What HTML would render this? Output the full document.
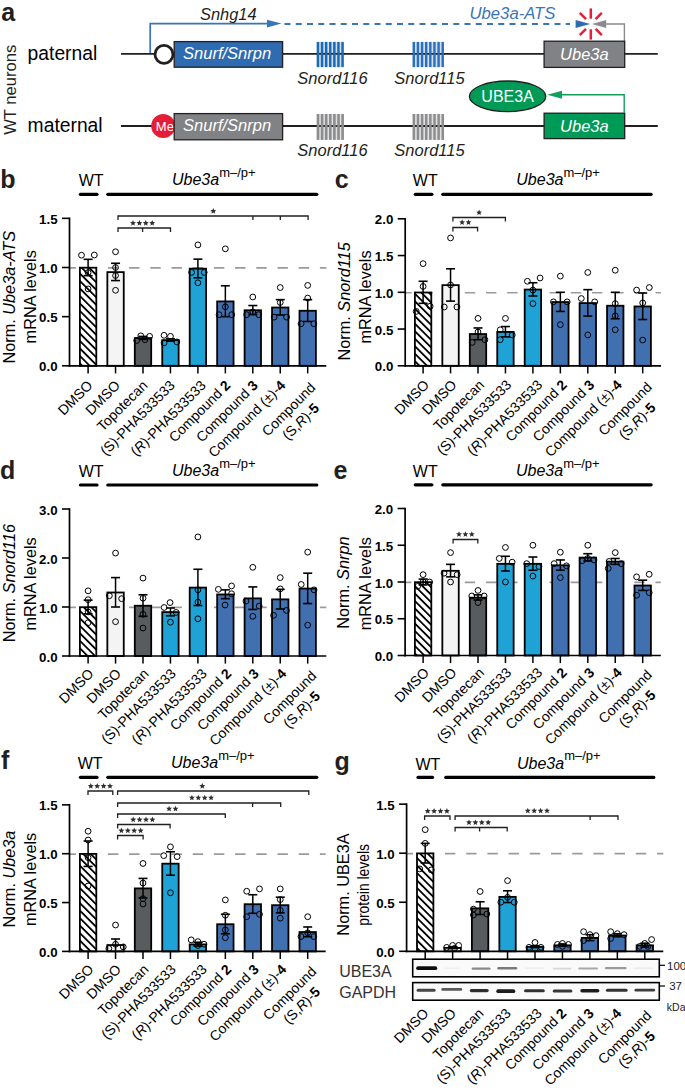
<!DOCTYPE html>
<html><head><meta charset="utf-8"><style>
html,body{margin:0;padding:0;background:#fff;}
svg{display:block;}
text{font-family:"Liberation Sans", sans-serif;}
</style></head><body>
<svg width="685" height="1092" viewBox="0 0 685 1092" font-family='"Liberation Sans", sans-serif'>
<defs><filter id="blur" x="-10%" y="-100%" width="120%" height="300%"><feGaussianBlur stdDeviation="0.7"/></filter><pattern id="hatch" patternUnits="userSpaceOnUse" width="5.3" height="5.3" patternTransform="rotate(-45)"><rect width="5.3" height="5.3" fill="#fff"/><rect x="0" y="0" width="1.8" height="5.3" fill="#000"/></pattern></defs>
<rect width="685" height="1092" fill="#fff"/>
<text x="1.30" y="21.20" font-size="25" font-weight="bold" font-style="normal" fill="#231f20" text-anchor="start" >a</text>
<text transform="translate(16.3,134.8) rotate(-90)" font-size="16.6" fill="#231f20">WT neurons</text>
<text x="27.60" y="60.20" font-size="19.3" font-weight="normal" font-style="normal" fill="#000" text-anchor="start" >paternal</text>
<text x="27.60" y="132.00" font-size="19.3" font-weight="normal" font-style="normal" fill="#000" text-anchor="start" >maternal</text>
<line x1="121.00" y1="53.80" x2="657.80" y2="53.80" stroke="#231f20" stroke-width="1.8" />
<line x1="121.00" y1="126.00" x2="657.80" y2="126.00" stroke="#231f20" stroke-width="1.8" />
<polyline points="150.2,53 150.2,23.6 270,23.6" fill="none" stroke="#3a74b9" stroke-width="1.7"/>
<polygon points="267,19.8 281.5,23.6 267,27.4" fill="#3a74b9"/>
<line x1="283.6" y1="24" x2="570" y2="24" stroke="#3a74b9" stroke-width="1.9" stroke-dasharray="6.0 5.25" stroke-dashoffset="-0.9"/>
<polygon points="575.6,20 590.2,24 575.6,28" fill="#2f6bb0"/>
<polyline points="624.4,41 624.4,24 605,24" fill="none" stroke="#8a8b8d" stroke-width="1.4"/>
<polygon points="606.2,20 592,24 606.2,28" fill="#8a8b8d"/>
<line x1="590.80" y1="18.70" x2="590.80" y2="8.40" stroke="#e3203a" stroke-width="2.5" />
<line x1="590.80" y1="29.30" x2="590.80" y2="39.60" stroke="#e3203a" stroke-width="2.5" />
<line x1="595.61" y1="19.19" x2="601.83" y2="12.97" stroke="#e3203a" stroke-width="2.5" />
<line x1="585.99" y1="19.19" x2="579.77" y2="12.97" stroke="#e3203a" stroke-width="2.5" />
<line x1="585.99" y1="28.81" x2="579.77" y2="35.03" stroke="#e3203a" stroke-width="2.5" />
<line x1="595.61" y1="28.81" x2="601.83" y2="35.03" stroke="#e3203a" stroke-width="2.5" />
<text x="200.00" y="19.90" font-size="16.4" font-weight="normal" font-style="italic" fill="#231f20" text-anchor="start" >Snhg14</text>
<text x="469.50" y="19.20" font-size="16.7" font-weight="normal" font-style="italic" fill="#3a74b9" text-anchor="start" >Ube3a-ATS</text>
<circle cx="164" cy="54.4" r="9.0" fill="#fff" stroke="#231f20" stroke-width="2.8"/>
<rect x="174.2" y="41.6" width="108.4" height="25.6" fill="#2f6bb0" stroke="#231f20" stroke-width="1.3"/>
<text x="183.10" y="59.40" font-size="16.5" font-weight="normal" font-style="italic" fill="#fff" text-anchor="start" >Snurf/Snrpn</text>
<rect x="316.7" y="41.9" width="27.0" height="25.2" fill="#c9d9ee" opacity="0.85"/>
<rect x="412.6" y="41.9" width="31.2" height="25.2" fill="#c9d9ee" opacity="0.85"/>
<line x1="316.00" y1="53.80" x2="345.00" y2="53.80" stroke="#231f20" stroke-width="1.8" />
<line x1="412.00" y1="53.80" x2="445.00" y2="53.80" stroke="#231f20" stroke-width="1.8" />
<rect x="316.70" y="41.9" width="2.5" height="25.2" fill="#1a6bb5"/>
<rect x="320.80" y="41.9" width="2.5" height="25.2" fill="#1a6bb5"/>
<rect x="324.90" y="41.9" width="2.5" height="25.2" fill="#1a6bb5"/>
<rect x="329.00" y="41.9" width="2.5" height="25.2" fill="#1a6bb5"/>
<rect x="333.10" y="41.9" width="2.5" height="25.2" fill="#1a6bb5"/>
<rect x="337.20" y="41.9" width="2.5" height="25.2" fill="#1a6bb5"/>
<rect x="341.30" y="41.9" width="2.5" height="25.2" fill="#1a6bb5"/>
<rect x="412.60" y="41.9" width="2.4" height="25.2" fill="#2a6fbc"/>
<rect x="416.73" y="41.9" width="2.4" height="25.2" fill="#2a6fbc"/>
<rect x="420.86" y="41.9" width="2.4" height="25.2" fill="#2a6fbc"/>
<rect x="424.99" y="41.9" width="2.4" height="25.2" fill="#2a6fbc"/>
<rect x="429.12" y="41.9" width="2.4" height="25.2" fill="#2a6fbc"/>
<rect x="433.25" y="41.9" width="2.4" height="25.2" fill="#2a6fbc"/>
<rect x="437.38" y="41.9" width="2.4" height="25.2" fill="#2a6fbc"/>
<rect x="441.51" y="41.9" width="2.4" height="25.2" fill="#2a6fbc"/>
<rect x="544.1" y="41.2" width="80.6" height="26.2" fill="#818285" stroke="#231f20" stroke-width="1.3"/>
<text x="584.40" y="60.30" font-size="16.5" font-weight="normal" font-style="italic" fill="#fff" text-anchor="middle" >Ube3a</text>
<text x="332.50" y="84.00" font-size="16.5" font-weight="normal" font-style="italic" fill="#231f20" text-anchor="middle" >Snord116</text>
<text x="429.50" y="84.00" font-size="16.5" font-weight="normal" font-style="italic" fill="#231f20" text-anchor="middle" >Snord115</text>
<circle cx="163.2" cy="126" r="12" fill="#e41e36"/>
<text x="164.90" y="130.90" font-size="13" font-weight="normal" font-style="normal" fill="#fff" text-anchor="middle" >Me</text>
<rect x="174.2" y="113.6" width="108.4" height="26.2" fill="#818285" stroke="#231f20" stroke-width="1.3"/>
<text x="183.10" y="131.40" font-size="16.5" font-weight="normal" font-style="italic" fill="#fff" text-anchor="start" >Snurf/Snrpn</text>
<rect x="316.7" y="114.0" width="27.0" height="25.9" fill="#dcdcdc" opacity="0.85"/>
<rect x="412.6" y="114.0" width="31.2" height="25.9" fill="#dcdcdc" opacity="0.85"/>
<line x1="316.00" y1="126.00" x2="345.00" y2="126.00" stroke="#231f20" stroke-width="1.8" />
<line x1="412.00" y1="126.00" x2="445.00" y2="126.00" stroke="#231f20" stroke-width="1.8" />
<rect x="316.70" y="114.0" width="2.6" height="25.9" fill="#8c8d8f"/>
<rect x="320.80" y="114.0" width="2.6" height="25.9" fill="#8c8d8f"/>
<rect x="324.90" y="114.0" width="2.6" height="25.9" fill="#8c8d8f"/>
<rect x="329.00" y="114.0" width="2.6" height="25.9" fill="#8c8d8f"/>
<rect x="333.10" y="114.0" width="2.6" height="25.9" fill="#8c8d8f"/>
<rect x="337.20" y="114.0" width="2.6" height="25.9" fill="#8c8d8f"/>
<rect x="341.30" y="114.0" width="2.6" height="25.9" fill="#8c8d8f"/>
<rect x="412.60" y="114.0" width="2.5" height="25.9" fill="#8c8d8f"/>
<rect x="416.73" y="114.0" width="2.5" height="25.9" fill="#8c8d8f"/>
<rect x="420.86" y="114.0" width="2.5" height="25.9" fill="#8c8d8f"/>
<rect x="424.99" y="114.0" width="2.5" height="25.9" fill="#8c8d8f"/>
<rect x="429.12" y="114.0" width="2.5" height="25.9" fill="#8c8d8f"/>
<rect x="433.25" y="114.0" width="2.5" height="25.9" fill="#8c8d8f"/>
<rect x="437.38" y="114.0" width="2.5" height="25.9" fill="#8c8d8f"/>
<rect x="441.51" y="114.0" width="2.5" height="25.9" fill="#8c8d8f"/>
<rect x="544.1" y="113.2" width="80.6" height="25.4" fill="#009a57" stroke="#231f20" stroke-width="1.3"/>
<text x="584.40" y="132.00" font-size="16.5" font-weight="normal" font-style="italic" fill="#fff" text-anchor="middle" >Ube3a</text>
<text x="332.50" y="156.00" font-size="16.5" font-weight="normal" font-style="italic" fill="#231f20" text-anchor="middle" >Snord116</text>
<text x="429.50" y="156.00" font-size="16.5" font-weight="normal" font-style="italic" fill="#231f20" text-anchor="middle" >Snord115</text>
<polyline points="624.2,113 624.2,94.8 560,94.8" fill="none" stroke="#12a05a" stroke-width="1.4"/>
<polygon points="562,90.8 547.2,94.8 562,98.8" fill="#12a05a"/>
<ellipse cx="507.6" cy="96.3" rx="38.2" ry="15.3" fill="#009a57" stroke="#231f20" stroke-width="1.3"/>
<text x="507.60" y="101.90" font-size="16" font-weight="normal" font-style="normal" fill="#fff" text-anchor="middle" >UBE3A</text>
<text x="0.20" y="187.50" font-size="25" font-weight="bold" font-style="normal" fill="#231f20" text-anchor="start" >b</text>
<text x="78.70" y="186.00" font-size="16" font-weight="normal" font-style="normal" fill="#000" text-anchor="start" >WT</text>
<line x1="80.40" y1="194.3" x2="97.00" y2="194.3" stroke="#000" stroke-width="3.2" stroke-linecap="round"/>
<line x1="107.80" y1="194.3" x2="316.80" y2="194.3" stroke="#000" stroke-width="3.2" stroke-linecap="round"/>
<text x="172.00" y="185.10" font-size="16" font-style="italic">Ube3a<tspan dy="-8.4" font-size="13" font-style="normal">m–/p+</tspan></text>
<line x1="69.50" y1="267.90" x2="326.30" y2="267.90" stroke="#9a9b9d" stroke-width="1.6" stroke-dasharray="10.4 10.8" stroke-dashoffset="4"/>
<rect x="79.90" y="267.70" width="16.40" height="98.10" fill="url(#hatch)" stroke="#000" stroke-width="1.8"/>
<line x1="88.10" y1="259.34" x2="88.10" y2="275.66" stroke="#000" stroke-width="1.5" />
<line x1="83.60" y1="259.34" x2="92.60" y2="259.34" stroke="#000" stroke-width="1.6" />
<line x1="83.60" y1="275.66" x2="92.60" y2="275.66" stroke="#000" stroke-width="1.6" />
<circle cx="81.50" cy="255.21" r="2.9" fill="none" stroke="#000" stroke-width="1"/>
<circle cx="94.30" cy="255.02" r="2.9" fill="none" stroke="#000" stroke-width="1"/>
<circle cx="88.10" cy="272.61" r="2.9" fill="none" stroke="#000" stroke-width="1"/>
<circle cx="88.10" cy="288.93" r="2.9" fill="none" stroke="#000" stroke-width="1"/>
<rect x="107.35" y="272.12" width="16.40" height="93.68" fill="#f4f4f4" stroke="#000" stroke-width="1.8"/>
<line x1="115.55" y1="263.27" x2="115.55" y2="280.57" stroke="#000" stroke-width="1.5" />
<line x1="111.05" y1="263.27" x2="120.05" y2="263.27" stroke="#000" stroke-width="1.6" />
<line x1="111.05" y1="280.57" x2="120.05" y2="280.57" stroke="#000" stroke-width="1.6" />
<circle cx="115.55" cy="251.77" r="2.9" fill="none" stroke="#000" stroke-width="1"/>
<circle cx="115.55" cy="267.50" r="2.9" fill="none" stroke="#000" stroke-width="1"/>
<circle cx="115.55" cy="275.56" r="2.9" fill="none" stroke="#000" stroke-width="1"/>
<circle cx="115.55" cy="290.31" r="2.9" fill="none" stroke="#000" stroke-width="1"/>
<rect x="134.80" y="338.08" width="16.40" height="27.72" fill="#585c5f" stroke="#000" stroke-width="1.8"/>
<line x1="143.00" y1="336.41" x2="143.00" y2="339.36" stroke="#000" stroke-width="1.5" />
<line x1="138.50" y1="336.41" x2="147.50" y2="336.41" stroke="#000" stroke-width="1.6" />
<line x1="138.50" y1="339.36" x2="147.50" y2="339.36" stroke="#000" stroke-width="1.6" />
<circle cx="140.80" cy="335.82" r="2.9" fill="none" stroke="#000" stroke-width="1"/>
<circle cx="149.60" cy="336.31" r="2.9" fill="none" stroke="#000" stroke-width="1"/>
<circle cx="136.70" cy="340.54" r="2.9" fill="none" stroke="#000" stroke-width="1"/>
<circle cx="144.90" cy="339.65" r="2.9" fill="none" stroke="#000" stroke-width="1"/>
<rect x="162.25" y="340.15" width="16.40" height="25.65" fill="#1fa2d6" stroke="#000" stroke-width="1.8"/>
<line x1="170.45" y1="338.77" x2="170.45" y2="341.13" stroke="#000" stroke-width="1.5" />
<line x1="165.95" y1="338.77" x2="174.95" y2="338.77" stroke="#000" stroke-width="1.6" />
<line x1="165.95" y1="341.13" x2="174.95" y2="341.13" stroke="#000" stroke-width="1.6" />
<circle cx="164.05" cy="335.33" r="2.9" fill="none" stroke="#000" stroke-width="1"/>
<circle cx="170.45" cy="336.31" r="2.9" fill="none" stroke="#000" stroke-width="1"/>
<circle cx="164.05" cy="342.90" r="2.9" fill="none" stroke="#000" stroke-width="1"/>
<circle cx="176.85" cy="341.91" r="2.9" fill="none" stroke="#000" stroke-width="1"/>
<rect x="189.70" y="268.68" width="16.40" height="97.12" fill="#1fa2d6" stroke="#000" stroke-width="1.8"/>
<line x1="197.90" y1="259.14" x2="197.90" y2="277.82" stroke="#000" stroke-width="1.5" />
<line x1="193.40" y1="259.14" x2="202.40" y2="259.14" stroke="#000" stroke-width="1.6" />
<line x1="193.40" y1="277.82" x2="202.40" y2="277.82" stroke="#000" stroke-width="1.6" />
<circle cx="197.90" cy="244.89" r="2.9" fill="none" stroke="#000" stroke-width="1"/>
<circle cx="191.60" cy="272.42" r="2.9" fill="none" stroke="#000" stroke-width="1"/>
<circle cx="204.20" cy="272.42" r="2.9" fill="none" stroke="#000" stroke-width="1"/>
<circle cx="197.90" cy="282.74" r="2.9" fill="none" stroke="#000" stroke-width="1"/>
<rect x="217.15" y="301.42" width="16.40" height="64.38" fill="#4070b0" stroke="#000" stroke-width="1.8"/>
<line x1="225.35" y1="285.78" x2="225.35" y2="316.65" stroke="#000" stroke-width="1.5" />
<line x1="220.85" y1="285.78" x2="229.85" y2="285.78" stroke="#000" stroke-width="1.6" />
<line x1="220.85" y1="316.65" x2="229.85" y2="316.65" stroke="#000" stroke-width="1.6" />
<circle cx="225.35" cy="248.82" r="2.9" fill="none" stroke="#000" stroke-width="1"/>
<circle cx="225.35" cy="306.82" r="2.9" fill="none" stroke="#000" stroke-width="1"/>
<circle cx="219.05" cy="314.68" r="2.9" fill="none" stroke="#000" stroke-width="1"/>
<circle cx="231.75" cy="314.68" r="2.9" fill="none" stroke="#000" stroke-width="1"/>
<rect x="244.60" y="310.26" width="16.40" height="55.54" fill="#4070b0" stroke="#000" stroke-width="1.8"/>
<line x1="252.80" y1="305.54" x2="252.80" y2="314.59" stroke="#000" stroke-width="1.5" />
<line x1="248.30" y1="305.54" x2="257.30" y2="305.54" stroke="#000" stroke-width="1.6" />
<line x1="248.30" y1="314.59" x2="257.30" y2="314.59" stroke="#000" stroke-width="1.6" />
<circle cx="252.80" cy="296.99" r="2.9" fill="none" stroke="#000" stroke-width="1"/>
<circle cx="246.70" cy="314.68" r="2.9" fill="none" stroke="#000" stroke-width="1"/>
<circle cx="252.80" cy="311.93" r="2.9" fill="none" stroke="#000" stroke-width="1"/>
<circle cx="258.70" cy="314.68" r="2.9" fill="none" stroke="#000" stroke-width="1"/>
<rect x="272.05" y="307.51" width="16.40" height="58.29" fill="#4070b0" stroke="#000" stroke-width="1.8"/>
<line x1="280.25" y1="299.64" x2="280.25" y2="314.98" stroke="#000" stroke-width="1.5" />
<line x1="275.75" y1="299.64" x2="284.75" y2="299.64" stroke="#000" stroke-width="1.6" />
<line x1="275.75" y1="314.98" x2="284.75" y2="314.98" stroke="#000" stroke-width="1.6" />
<circle cx="280.25" cy="287.55" r="2.9" fill="none" stroke="#000" stroke-width="1"/>
<circle cx="280.25" cy="302.49" r="2.9" fill="none" stroke="#000" stroke-width="1"/>
<circle cx="274.15" cy="317.14" r="2.9" fill="none" stroke="#000" stroke-width="1"/>
<circle cx="286.55" cy="317.14" r="2.9" fill="none" stroke="#000" stroke-width="1"/>
<rect x="299.50" y="310.76" width="16.40" height="55.04" fill="#4070b0" stroke="#000" stroke-width="1.8"/>
<line x1="307.70" y1="299.64" x2="307.70" y2="321.47" stroke="#000" stroke-width="1.5" />
<line x1="303.20" y1="299.64" x2="312.20" y2="299.64" stroke="#000" stroke-width="1.6" />
<line x1="303.20" y1="321.47" x2="312.20" y2="321.47" stroke="#000" stroke-width="1.6" />
<circle cx="307.70" cy="285.39" r="2.9" fill="none" stroke="#000" stroke-width="1"/>
<circle cx="307.70" cy="298.07" r="2.9" fill="none" stroke="#000" stroke-width="1"/>
<circle cx="301.10" cy="323.73" r="2.9" fill="none" stroke="#000" stroke-width="1"/>
<circle cx="313.80" cy="323.73" r="2.9" fill="none" stroke="#000" stroke-width="1"/>
<line x1="69.50" y1="217.55" x2="69.50" y2="366.70" stroke="#000" stroke-width="1.7"/>
<line x1="68.70" y1="365.80" x2="326.30" y2="365.80" stroke="#000" stroke-width="1.7"/>
<line x1="62.00" y1="365.80" x2="69.50" y2="365.80" stroke="#000" stroke-width="1.6" />
<text x="57.60" y="371.40" font-size="13.3" font-weight="bold" font-style="normal" fill="#000" text-anchor="end" >0.0</text>
<line x1="62.00" y1="316.65" x2="69.50" y2="316.65" stroke="#000" stroke-width="1.6" />
<text x="57.60" y="322.25" font-size="13.3" font-weight="bold" font-style="normal" fill="#000" text-anchor="end" >0.5</text>
<line x1="62.00" y1="267.50" x2="69.50" y2="267.50" stroke="#000" stroke-width="1.6" />
<text x="57.60" y="273.10" font-size="13.3" font-weight="bold" font-style="normal" fill="#000" text-anchor="end" >1.0</text>
<line x1="62.00" y1="218.35" x2="69.50" y2="218.35" stroke="#000" stroke-width="1.6" />
<text x="57.60" y="223.95" font-size="13.3" font-weight="bold" font-style="normal" fill="#000" text-anchor="end" >1.5</text>
<line x1="88.10" y1="365.80" x2="88.10" y2="373.40" stroke="#000" stroke-width="1.5" />
<line x1="115.55" y1="365.80" x2="115.55" y2="373.40" stroke="#000" stroke-width="1.5" />
<line x1="143.00" y1="365.80" x2="143.00" y2="373.40" stroke="#000" stroke-width="1.5" />
<line x1="170.45" y1="365.80" x2="170.45" y2="373.40" stroke="#000" stroke-width="1.5" />
<line x1="197.90" y1="365.80" x2="197.90" y2="373.40" stroke="#000" stroke-width="1.5" />
<line x1="225.35" y1="365.80" x2="225.35" y2="373.40" stroke="#000" stroke-width="1.5" />
<line x1="252.80" y1="365.80" x2="252.80" y2="373.40" stroke="#000" stroke-width="1.5" />
<line x1="280.25" y1="365.80" x2="280.25" y2="373.40" stroke="#000" stroke-width="1.5" />
<line x1="307.70" y1="365.80" x2="307.70" y2="373.40" stroke="#000" stroke-width="1.5" />
<polyline points="118.00,232.00 118.00,228.00 170.50,228.00 170.50,232.00" fill="none" stroke="#231f20" stroke-width="1.3"/>
<line x1="142.60" y1="228.00" x2="142.60" y2="232.00" stroke="#231f20" stroke-width="1.3" />
<polygon points="133.00,220.10 133.82,222.07 135.95,222.24 134.33,223.63 134.82,225.71 133.00,224.60 131.18,225.71 131.67,223.63 130.05,222.24 132.18,222.07" fill="#2e2e2e"/>
<polygon points="139.40,220.10 140.22,222.07 142.35,222.24 140.73,223.63 141.22,225.71 139.40,224.60 137.58,225.71 138.07,223.63 136.45,222.24 138.58,222.07" fill="#2e2e2e"/>
<polygon points="145.80,220.10 146.62,222.07 148.75,222.24 147.13,223.63 147.62,225.71 145.80,224.60 143.98,225.71 144.47,223.63 142.85,222.24 144.98,222.07" fill="#2e2e2e"/>
<polygon points="152.20,220.10 153.02,222.07 155.15,222.24 153.53,223.63 154.02,225.71 152.20,224.60 150.38,225.71 150.87,223.63 149.25,222.24 151.38,222.07" fill="#2e2e2e"/>
<polyline points="118.00,220.00 118.00,216.00 308.10,216.00 308.10,220.00" fill="none" stroke="#231f20" stroke-width="1.3"/>
<line x1="252.90" y1="216.00" x2="252.90" y2="220.00" stroke="#231f20" stroke-width="1.3" />
<line x1="280.30" y1="216.00" x2="280.30" y2="220.00" stroke="#231f20" stroke-width="1.3" />
<polygon points="213.30,208.10 214.12,210.07 216.25,210.24 214.63,211.63 215.12,213.71 213.30,212.60 211.48,213.71 211.97,211.63 210.35,210.24 212.48,210.07" fill="#2e2e2e"/>
<text transform="translate(15.10,297.20) rotate(-90)" font-size="16.3" text-anchor="middle">Norm. <tspan font-style="italic">Ube3a-ATS</tspan></text>
<text transform="translate(35.50,296.80) rotate(-90)" font-size="16.3" text-anchor="middle">mRNA levels</text>
<text transform="translate(93.50,386.30) rotate(-45)" font-size="14.0" text-anchor="end">DMSO</text>
<text transform="translate(120.95,386.30) rotate(-45)" font-size="14.0" text-anchor="end">DMSO</text>
<text transform="translate(148.40,386.30) rotate(-45)" font-size="14.0" text-anchor="end">Topotecan</text>
<text transform="translate(175.85,386.30) rotate(-45)" font-size="14.0" text-anchor="end">(S)-PHA533533</text>
<text transform="translate(206.80,386.30) rotate(-45)" font-size="14.0" text-anchor="end">(<tspan font-style="italic">R</tspan>)-PHA533533</text>
<text transform="translate(231.35,386.30) rotate(-45)" font-size="14.0" text-anchor="end">Compound <tspan font-weight="bold">2</tspan></text>
<text transform="translate(258.80,386.30) rotate(-45)" font-size="14.0" text-anchor="end">Compound <tspan font-weight="bold">3</tspan></text>
<text transform="translate(286.25,386.30) rotate(-45)" font-size="14.0" text-anchor="end">Compound (±)-<tspan font-weight="bold">4</tspan></text>
<text transform="translate(316.20,388.60) rotate(-45)" font-size="14.0" text-anchor="end">Compound</text>
<text transform="translate(319.96,408.88) rotate(-45)" font-size="14.0" text-anchor="end">(S,<tspan font-style="italic">R</tspan>)-<tspan font-weight="bold">5</tspan></text>
<text x="334.80" y="187.60" font-size="25" font-weight="bold" font-style="normal" fill="#231f20" text-anchor="start" >c</text>
<text x="412.80" y="186.00" font-size="16" font-weight="normal" font-style="normal" fill="#000" text-anchor="start" >WT</text>
<line x1="415.30" y1="194.3" x2="431.90" y2="194.3" stroke="#000" stroke-width="3.2" stroke-linecap="round"/>
<line x1="442.80" y1="194.3" x2="651.10" y2="194.3" stroke="#000" stroke-width="3.2" stroke-linecap="round"/>
<text x="516.30" y="185.10" font-size="16" font-style="italic">Ube3a<tspan dy="-8.4" font-size="13" font-style="normal">m–/p+</tspan></text>
<line x1="405.20" y1="292.70" x2="661.00" y2="292.70" stroke="#9a9b9d" stroke-width="1.6" stroke-dasharray="10.4 10.8" stroke-dashoffset="4"/>
<rect x="414.90" y="292.50" width="16.40" height="73.30" fill="url(#hatch)" stroke="#000" stroke-width="1.8"/>
<line x1="423.10" y1="281.28" x2="423.10" y2="303.32" stroke="#000" stroke-width="1.5" />
<line x1="418.60" y1="281.28" x2="427.60" y2="281.28" stroke="#000" stroke-width="1.6" />
<line x1="418.60" y1="303.32" x2="427.60" y2="303.32" stroke="#000" stroke-width="1.6" />
<circle cx="423.10" cy="263.63" r="2.9" fill="none" stroke="#000" stroke-width="1"/>
<circle cx="423.10" cy="286.42" r="2.9" fill="none" stroke="#000" stroke-width="1"/>
<circle cx="416.20" cy="311.41" r="2.9" fill="none" stroke="#000" stroke-width="1"/>
<circle cx="430.10" cy="306.26" r="2.9" fill="none" stroke="#000" stroke-width="1"/>
<rect x="442.35" y="285.15" width="16.40" height="80.65" fill="#f4f4f4" stroke="#000" stroke-width="1.8"/>
<line x1="450.55" y1="268.78" x2="450.55" y2="301.12" stroke="#000" stroke-width="1.5" />
<line x1="446.05" y1="268.78" x2="455.05" y2="268.78" stroke="#000" stroke-width="1.6" />
<line x1="446.05" y1="301.12" x2="455.05" y2="301.12" stroke="#000" stroke-width="1.6" />
<circle cx="450.55" cy="237.91" r="2.9" fill="none" stroke="#000" stroke-width="1"/>
<circle cx="450.55" cy="284.95" r="2.9" fill="none" stroke="#000" stroke-width="1"/>
<circle cx="444.25" cy="307.00" r="2.9" fill="none" stroke="#000" stroke-width="1"/>
<circle cx="456.95" cy="307.00" r="2.9" fill="none" stroke="#000" stroke-width="1"/>
<rect x="469.80" y="334.03" width="16.40" height="31.77" fill="#585c5f" stroke="#000" stroke-width="1.8"/>
<line x1="478.00" y1="327.95" x2="478.00" y2="339.71" stroke="#000" stroke-width="1.5" />
<line x1="473.50" y1="327.95" x2="482.50" y2="327.95" stroke="#000" stroke-width="1.6" />
<line x1="473.50" y1="339.71" x2="482.50" y2="339.71" stroke="#000" stroke-width="1.6" />
<circle cx="478.00" cy="318.39" r="2.9" fill="none" stroke="#000" stroke-width="1"/>
<circle cx="478.00" cy="331.99" r="2.9" fill="none" stroke="#000" stroke-width="1"/>
<circle cx="472.20" cy="342.43" r="2.9" fill="none" stroke="#000" stroke-width="1"/>
<circle cx="484.90" cy="339.71" r="2.9" fill="none" stroke="#000" stroke-width="1"/>
<rect x="497.25" y="331.90" width="16.40" height="33.90" fill="#1fa2d6" stroke="#000" stroke-width="1.8"/>
<line x1="505.45" y1="326.55" x2="505.45" y2="336.84" stroke="#000" stroke-width="1.5" />
<line x1="500.95" y1="326.55" x2="509.95" y2="326.55" stroke="#000" stroke-width="1.6" />
<line x1="500.95" y1="336.84" x2="509.95" y2="336.84" stroke="#000" stroke-width="1.6" />
<circle cx="505.45" cy="318.39" r="2.9" fill="none" stroke="#000" stroke-width="1"/>
<circle cx="500.25" cy="329.79" r="2.9" fill="none" stroke="#000" stroke-width="1"/>
<circle cx="512.25" cy="334.93" r="2.9" fill="none" stroke="#000" stroke-width="1"/>
<circle cx="500.25" cy="339.71" r="2.9" fill="none" stroke="#000" stroke-width="1"/>
<rect x="524.70" y="289.56" width="16.40" height="76.24" fill="#1fa2d6" stroke="#000" stroke-width="1.8"/>
<line x1="532.90" y1="282.75" x2="532.90" y2="295.98" stroke="#000" stroke-width="1.5" />
<line x1="528.40" y1="282.75" x2="537.40" y2="282.75" stroke="#000" stroke-width="1.6" />
<line x1="528.40" y1="295.98" x2="537.40" y2="295.98" stroke="#000" stroke-width="1.6" />
<circle cx="527.40" cy="281.28" r="2.9" fill="none" stroke="#000" stroke-width="1"/>
<circle cx="540.10" cy="277.97" r="2.9" fill="none" stroke="#000" stroke-width="1"/>
<circle cx="532.90" cy="290.10" r="2.9" fill="none" stroke="#000" stroke-width="1"/>
<circle cx="532.90" cy="303.62" r="2.9" fill="none" stroke="#000" stroke-width="1"/>
<rect x="552.15" y="302.06" width="16.40" height="63.74" fill="#4070b0" stroke="#000" stroke-width="1.8"/>
<line x1="560.35" y1="292.30" x2="560.35" y2="311.41" stroke="#000" stroke-width="1.5" />
<line x1="555.85" y1="292.30" x2="564.85" y2="292.30" stroke="#000" stroke-width="1.6" />
<line x1="555.85" y1="311.41" x2="564.85" y2="311.41" stroke="#000" stroke-width="1.6" />
<circle cx="560.35" cy="276.13" r="2.9" fill="none" stroke="#000" stroke-width="1"/>
<circle cx="553.45" cy="301.86" r="2.9" fill="none" stroke="#000" stroke-width="1"/>
<circle cx="567.15" cy="301.86" r="2.9" fill="none" stroke="#000" stroke-width="1"/>
<circle cx="560.35" cy="324.64" r="2.9" fill="none" stroke="#000" stroke-width="1"/>
<rect x="579.60" y="303.08" width="16.40" height="62.72" fill="#4070b0" stroke="#000" stroke-width="1.8"/>
<line x1="587.80" y1="289.65" x2="587.80" y2="316.11" stroke="#000" stroke-width="1.5" />
<line x1="583.30" y1="289.65" x2="592.30" y2="289.65" stroke="#000" stroke-width="1.6" />
<line x1="583.30" y1="316.11" x2="592.30" y2="316.11" stroke="#000" stroke-width="1.6" />
<circle cx="587.80" cy="272.46" r="2.9" fill="none" stroke="#000" stroke-width="1"/>
<circle cx="581.30" cy="298.55" r="2.9" fill="none" stroke="#000" stroke-width="1"/>
<circle cx="594.70" cy="301.86" r="2.9" fill="none" stroke="#000" stroke-width="1"/>
<circle cx="587.80" cy="334.93" r="2.9" fill="none" stroke="#000" stroke-width="1"/>
<rect x="607.05" y="305.73" width="16.40" height="60.07" fill="#4070b0" stroke="#000" stroke-width="1.8"/>
<line x1="615.25" y1="292.30" x2="615.25" y2="318.76" stroke="#000" stroke-width="1.5" />
<line x1="610.75" y1="292.30" x2="619.75" y2="292.30" stroke="#000" stroke-width="1.6" />
<line x1="610.75" y1="318.76" x2="619.75" y2="318.76" stroke="#000" stroke-width="1.6" />
<circle cx="615.25" cy="270.25" r="2.9" fill="none" stroke="#000" stroke-width="1"/>
<circle cx="615.25" cy="303.62" r="2.9" fill="none" stroke="#000" stroke-width="1"/>
<circle cx="615.25" cy="315.82" r="2.9" fill="none" stroke="#000" stroke-width="1"/>
<circle cx="615.25" cy="329.79" r="2.9" fill="none" stroke="#000" stroke-width="1"/>
<rect x="634.50" y="306.46" width="16.40" height="59.34" fill="#4070b0" stroke="#000" stroke-width="1.8"/>
<line x1="642.70" y1="293.04" x2="642.70" y2="319.50" stroke="#000" stroke-width="1.5" />
<line x1="638.20" y1="293.04" x2="647.20" y2="293.04" stroke="#000" stroke-width="1.6" />
<line x1="638.20" y1="319.50" x2="647.20" y2="319.50" stroke="#000" stroke-width="1.6" />
<circle cx="636.60" cy="290.10" r="2.9" fill="none" stroke="#000" stroke-width="1"/>
<circle cx="649.30" cy="287.52" r="2.9" fill="none" stroke="#000" stroke-width="1"/>
<circle cx="642.70" cy="302.88" r="2.9" fill="none" stroke="#000" stroke-width="1"/>
<circle cx="642.70" cy="340.07" r="2.9" fill="none" stroke="#000" stroke-width="1"/>
<line x1="405.20" y1="218.00" x2="405.20" y2="366.70" stroke="#000" stroke-width="1.7"/>
<line x1="404.40" y1="365.80" x2="661.00" y2="365.80" stroke="#000" stroke-width="1.7"/>
<line x1="397.70" y1="365.80" x2="405.20" y2="365.80" stroke="#000" stroke-width="1.6" />
<text x="393.30" y="371.40" font-size="13.3" font-weight="bold" font-style="normal" fill="#000" text-anchor="end" >0.0</text>
<line x1="397.70" y1="329.05" x2="405.20" y2="329.05" stroke="#000" stroke-width="1.6" />
<text x="393.30" y="334.65" font-size="13.3" font-weight="bold" font-style="normal" fill="#000" text-anchor="end" >0.5</text>
<line x1="397.70" y1="292.30" x2="405.20" y2="292.30" stroke="#000" stroke-width="1.6" />
<text x="393.30" y="297.90" font-size="13.3" font-weight="bold" font-style="normal" fill="#000" text-anchor="end" >1.0</text>
<line x1="397.70" y1="255.55" x2="405.20" y2="255.55" stroke="#000" stroke-width="1.6" />
<text x="393.30" y="261.15" font-size="13.3" font-weight="bold" font-style="normal" fill="#000" text-anchor="end" >1.5</text>
<line x1="397.70" y1="218.80" x2="405.20" y2="218.80" stroke="#000" stroke-width="1.6" />
<text x="393.30" y="224.40" font-size="13.3" font-weight="bold" font-style="normal" fill="#000" text-anchor="end" >2.0</text>
<line x1="423.10" y1="365.80" x2="423.10" y2="373.40" stroke="#000" stroke-width="1.5" />
<line x1="450.55" y1="365.80" x2="450.55" y2="373.40" stroke="#000" stroke-width="1.5" />
<line x1="478.00" y1="365.80" x2="478.00" y2="373.40" stroke="#000" stroke-width="1.5" />
<line x1="505.45" y1="365.80" x2="505.45" y2="373.40" stroke="#000" stroke-width="1.5" />
<line x1="532.90" y1="365.80" x2="532.90" y2="373.40" stroke="#000" stroke-width="1.5" />
<line x1="560.35" y1="365.80" x2="560.35" y2="373.40" stroke="#000" stroke-width="1.5" />
<line x1="587.80" y1="365.80" x2="587.80" y2="373.40" stroke="#000" stroke-width="1.5" />
<line x1="615.25" y1="365.80" x2="615.25" y2="373.40" stroke="#000" stroke-width="1.5" />
<line x1="642.70" y1="365.80" x2="642.70" y2="373.40" stroke="#000" stroke-width="1.5" />
<polyline points="452.90,231.50 452.90,227.50 477.60,227.50 477.60,231.50" fill="none" stroke="#231f20" stroke-width="1.3"/>
<polygon points="462.10,219.30 462.92,221.27 465.05,221.44 463.43,222.83 463.92,224.91 462.10,223.80 460.28,224.91 460.77,222.83 459.15,221.44 461.28,221.27" fill="#2e2e2e"/>
<polygon points="468.50,219.30 469.32,221.27 471.45,221.44 469.83,222.83 470.32,224.91 468.50,223.80 466.68,224.91 467.17,222.83 465.55,221.44 467.68,221.27" fill="#2e2e2e"/>
<polyline points="452.90,221.50 452.90,217.50 505.40,217.50 505.40,221.50" fill="none" stroke="#231f20" stroke-width="1.3"/>
<polygon points="479.10,209.50 479.92,211.47 482.05,211.64 480.43,213.03 480.92,215.11 479.10,214.00 477.28,215.11 477.77,213.03 476.15,211.64 478.28,211.47" fill="#2e2e2e"/>
<text transform="translate(349.90,301.40) rotate(-90)" font-size="16.3" text-anchor="middle">Norm. <tspan font-style="italic">Snord115</tspan></text>
<text transform="translate(370.60,297.00) rotate(-90)" font-size="16.3" text-anchor="middle">mRNA levels</text>
<text transform="translate(430.00,385.80) rotate(-45)" font-size="14.0" text-anchor="end">DMSO</text>
<text transform="translate(457.45,385.80) rotate(-45)" font-size="14.0" text-anchor="end">DMSO</text>
<text transform="translate(484.90,385.80) rotate(-45)" font-size="14.0" text-anchor="end">Topotecan</text>
<text transform="translate(512.35,385.80) rotate(-45)" font-size="14.0" text-anchor="end">(S)-PHA533533</text>
<text transform="translate(543.30,385.80) rotate(-45)" font-size="14.0" text-anchor="end">(<tspan font-style="italic">R</tspan>)-PHA533533</text>
<text transform="translate(567.85,385.80) rotate(-45)" font-size="14.0" text-anchor="end">Compound <tspan font-weight="bold">2</tspan></text>
<text transform="translate(595.30,385.80) rotate(-45)" font-size="14.0" text-anchor="end">Compound <tspan font-weight="bold">3</tspan></text>
<text transform="translate(622.75,385.80) rotate(-45)" font-size="14.0" text-anchor="end">Compound (±)-<tspan font-weight="bold">4</tspan></text>
<text transform="translate(652.70,388.10) rotate(-45)" font-size="14.0" text-anchor="end">Compound</text>
<text transform="translate(656.46,408.38) rotate(-45)" font-size="14.0" text-anchor="end">(S,<tspan font-style="italic">R</tspan>)-<tspan font-weight="bold">5</tspan></text>
<text x="0.00" y="479.10" font-size="25" font-weight="bold" font-style="normal" fill="#231f20" text-anchor="start" >d</text>
<text x="78.70" y="476.90" font-size="16" font-weight="normal" font-style="normal" fill="#000" text-anchor="start" >WT</text>
<line x1="80.40" y1="485" x2="97.00" y2="485" stroke="#000" stroke-width="3.2" stroke-linecap="round"/>
<line x1="107.80" y1="485" x2="316.80" y2="485" stroke="#000" stroke-width="3.2" stroke-linecap="round"/>
<text x="172.00" y="476.00" font-size="16" font-style="italic">Ube3a<tspan dy="-8.4" font-size="13" font-style="normal">m–/p+</tspan></text>
<line x1="69.50" y1="607.40" x2="326.30" y2="607.40" stroke="#9a9b9d" stroke-width="1.6" stroke-dasharray="10.4 10.8" stroke-dashoffset="4"/>
<rect x="79.90" y="607.20" width="16.40" height="48.80" fill="url(#hatch)" stroke="#000" stroke-width="1.8"/>
<line x1="88.10" y1="600.14" x2="88.10" y2="613.86" stroke="#000" stroke-width="1.5" />
<line x1="83.60" y1="600.14" x2="92.60" y2="600.14" stroke="#000" stroke-width="1.6" />
<line x1="83.60" y1="613.86" x2="92.60" y2="613.86" stroke="#000" stroke-width="1.6" />
<circle cx="88.10" cy="590.83" r="2.9" fill="none" stroke="#000" stroke-width="1"/>
<circle cx="88.10" cy="599.65" r="2.9" fill="none" stroke="#000" stroke-width="1"/>
<circle cx="88.10" cy="611.90" r="2.9" fill="none" stroke="#000" stroke-width="1"/>
<circle cx="88.10" cy="622.68" r="2.9" fill="none" stroke="#000" stroke-width="1"/>
<rect x="107.35" y="592.50" width="16.40" height="63.50" fill="#f4f4f4" stroke="#000" stroke-width="1.8"/>
<line x1="115.55" y1="577.60" x2="115.55" y2="607.00" stroke="#000" stroke-width="1.5" />
<line x1="111.05" y1="577.60" x2="120.05" y2="577.60" stroke="#000" stroke-width="1.6" />
<line x1="111.05" y1="607.00" x2="120.05" y2="607.00" stroke="#000" stroke-width="1.6" />
<circle cx="115.55" cy="553.10" r="2.9" fill="none" stroke="#000" stroke-width="1"/>
<circle cx="109.35" cy="595.73" r="2.9" fill="none" stroke="#000" stroke-width="1"/>
<circle cx="121.65" cy="598.67" r="2.9" fill="none" stroke="#000" stroke-width="1"/>
<circle cx="115.55" cy="621.70" r="2.9" fill="none" stroke="#000" stroke-width="1"/>
<rect x="134.80" y="605.73" width="16.40" height="50.27" fill="#585c5f" stroke="#000" stroke-width="1.8"/>
<line x1="143.00" y1="594.75" x2="143.00" y2="616.31" stroke="#000" stroke-width="1.5" />
<line x1="138.50" y1="594.75" x2="147.50" y2="594.75" stroke="#000" stroke-width="1.6" />
<line x1="138.50" y1="616.31" x2="147.50" y2="616.31" stroke="#000" stroke-width="1.6" />
<circle cx="143.00" cy="578.09" r="2.9" fill="none" stroke="#000" stroke-width="1"/>
<circle cx="143.00" cy="598.18" r="2.9" fill="none" stroke="#000" stroke-width="1"/>
<circle cx="143.00" cy="614.35" r="2.9" fill="none" stroke="#000" stroke-width="1"/>
<circle cx="143.00" cy="628.07" r="2.9" fill="none" stroke="#000" stroke-width="1"/>
<rect x="162.25" y="612.10" width="16.40" height="43.90" fill="#1fa2d6" stroke="#000" stroke-width="1.8"/>
<line x1="170.45" y1="607.98" x2="170.45" y2="615.82" stroke="#000" stroke-width="1.5" />
<line x1="165.95" y1="607.98" x2="174.95" y2="607.98" stroke="#000" stroke-width="1.6" />
<line x1="165.95" y1="615.82" x2="174.95" y2="615.82" stroke="#000" stroke-width="1.6" />
<circle cx="164.15" cy="607.49" r="2.9" fill="none" stroke="#000" stroke-width="1"/>
<circle cx="170.05" cy="602.59" r="2.9" fill="none" stroke="#000" stroke-width="1"/>
<circle cx="176.15" cy="612.39" r="2.9" fill="none" stroke="#000" stroke-width="1"/>
<circle cx="170.45" cy="622.19" r="2.9" fill="none" stroke="#000" stroke-width="1"/>
<rect x="189.70" y="587.60" width="16.40" height="68.40" fill="#1fa2d6" stroke="#000" stroke-width="1.8"/>
<line x1="197.90" y1="569.27" x2="197.90" y2="605.53" stroke="#000" stroke-width="1.5" />
<line x1="193.40" y1="569.27" x2="202.40" y2="569.27" stroke="#000" stroke-width="1.6" />
<line x1="193.40" y1="605.53" x2="202.40" y2="605.53" stroke="#000" stroke-width="1.6" />
<circle cx="197.90" cy="536.93" r="2.9" fill="none" stroke="#000" stroke-width="1"/>
<circle cx="197.90" cy="589.85" r="2.9" fill="none" stroke="#000" stroke-width="1"/>
<circle cx="197.90" cy="602.10" r="2.9" fill="none" stroke="#000" stroke-width="1"/>
<circle cx="197.90" cy="618.76" r="2.9" fill="none" stroke="#000" stroke-width="1"/>
<rect x="217.15" y="594.46" width="16.40" height="61.54" fill="#4070b0" stroke="#000" stroke-width="1.8"/>
<line x1="225.35" y1="589.85" x2="225.35" y2="598.67" stroke="#000" stroke-width="1.5" />
<line x1="220.85" y1="589.85" x2="229.85" y2="589.85" stroke="#000" stroke-width="1.6" />
<line x1="220.85" y1="598.67" x2="229.85" y2="598.67" stroke="#000" stroke-width="1.6" />
<circle cx="218.35" cy="589.36" r="2.9" fill="none" stroke="#000" stroke-width="1"/>
<circle cx="231.55" cy="585.93" r="2.9" fill="none" stroke="#000" stroke-width="1"/>
<circle cx="231.55" cy="593.77" r="2.9" fill="none" stroke="#000" stroke-width="1"/>
<circle cx="225.05" cy="605.04" r="2.9" fill="none" stroke="#000" stroke-width="1"/>
<rect x="244.60" y="598.38" width="16.40" height="57.62" fill="#4070b0" stroke="#000" stroke-width="1.8"/>
<line x1="252.80" y1="586.91" x2="252.80" y2="609.45" stroke="#000" stroke-width="1.5" />
<line x1="248.30" y1="586.91" x2="257.30" y2="586.91" stroke="#000" stroke-width="1.6" />
<line x1="248.30" y1="609.45" x2="257.30" y2="609.45" stroke="#000" stroke-width="1.6" />
<circle cx="252.80" cy="567.31" r="2.9" fill="none" stroke="#000" stroke-width="1"/>
<circle cx="246.00" cy="601.12" r="2.9" fill="none" stroke="#000" stroke-width="1"/>
<circle cx="259.20" cy="606.02" r="2.9" fill="none" stroke="#000" stroke-width="1"/>
<circle cx="252.80" cy="616.31" r="2.9" fill="none" stroke="#000" stroke-width="1"/>
<rect x="272.05" y="599.36" width="16.40" height="56.64" fill="#4070b0" stroke="#000" stroke-width="1.8"/>
<line x1="280.25" y1="589.36" x2="280.25" y2="608.96" stroke="#000" stroke-width="1.5" />
<line x1="275.75" y1="589.36" x2="284.75" y2="589.36" stroke="#000" stroke-width="1.6" />
<line x1="275.75" y1="608.96" x2="284.75" y2="608.96" stroke="#000" stroke-width="1.6" />
<circle cx="280.25" cy="577.60" r="2.9" fill="none" stroke="#000" stroke-width="1"/>
<circle cx="280.25" cy="588.87" r="2.9" fill="none" stroke="#000" stroke-width="1"/>
<circle cx="273.55" cy="615.33" r="2.9" fill="none" stroke="#000" stroke-width="1"/>
<circle cx="286.45" cy="610.43" r="2.9" fill="none" stroke="#000" stroke-width="1"/>
<rect x="299.50" y="588.58" width="16.40" height="67.42" fill="#4070b0" stroke="#000" stroke-width="1.8"/>
<line x1="307.70" y1="573.19" x2="307.70" y2="603.57" stroke="#000" stroke-width="1.5" />
<line x1="303.20" y1="573.19" x2="312.20" y2="573.19" stroke="#000" stroke-width="1.6" />
<line x1="303.20" y1="603.57" x2="312.20" y2="603.57" stroke="#000" stroke-width="1.6" />
<circle cx="307.70" cy="552.12" r="2.9" fill="none" stroke="#000" stroke-width="1"/>
<circle cx="301.20" cy="584.46" r="2.9" fill="none" stroke="#000" stroke-width="1"/>
<circle cx="314.00" cy="589.85" r="2.9" fill="none" stroke="#000" stroke-width="1"/>
<circle cx="307.70" cy="625.13" r="2.9" fill="none" stroke="#000" stroke-width="1"/>
<line x1="69.50" y1="508.20" x2="69.50" y2="656.90" stroke="#000" stroke-width="1.7"/>
<line x1="68.70" y1="656.00" x2="326.30" y2="656.00" stroke="#000" stroke-width="1.7"/>
<line x1="62.00" y1="656.00" x2="69.50" y2="656.00" stroke="#000" stroke-width="1.6" />
<text x="57.60" y="661.60" font-size="13.3" font-weight="bold" font-style="normal" fill="#000" text-anchor="end" >0.0</text>
<line x1="62.00" y1="607.00" x2="69.50" y2="607.00" stroke="#000" stroke-width="1.6" />
<text x="57.60" y="612.60" font-size="13.3" font-weight="bold" font-style="normal" fill="#000" text-anchor="end" >1.0</text>
<line x1="62.00" y1="558.00" x2="69.50" y2="558.00" stroke="#000" stroke-width="1.6" />
<text x="57.60" y="563.60" font-size="13.3" font-weight="bold" font-style="normal" fill="#000" text-anchor="end" >2.0</text>
<line x1="62.00" y1="509.00" x2="69.50" y2="509.00" stroke="#000" stroke-width="1.6" />
<text x="57.60" y="514.60" font-size="13.3" font-weight="bold" font-style="normal" fill="#000" text-anchor="end" >3.0</text>
<line x1="88.10" y1="656.00" x2="88.10" y2="663.60" stroke="#000" stroke-width="1.5" />
<line x1="115.55" y1="656.00" x2="115.55" y2="663.60" stroke="#000" stroke-width="1.5" />
<line x1="143.00" y1="656.00" x2="143.00" y2="663.60" stroke="#000" stroke-width="1.5" />
<line x1="170.45" y1="656.00" x2="170.45" y2="663.60" stroke="#000" stroke-width="1.5" />
<line x1="197.90" y1="656.00" x2="197.90" y2="663.60" stroke="#000" stroke-width="1.5" />
<line x1="225.35" y1="656.00" x2="225.35" y2="663.60" stroke="#000" stroke-width="1.5" />
<line x1="252.80" y1="656.00" x2="252.80" y2="663.60" stroke="#000" stroke-width="1.5" />
<line x1="280.25" y1="656.00" x2="280.25" y2="663.60" stroke="#000" stroke-width="1.5" />
<line x1="307.70" y1="656.00" x2="307.70" y2="663.60" stroke="#000" stroke-width="1.5" />
<text transform="translate(15.10,583.10) rotate(-90)" font-size="16.3" text-anchor="middle">Norm. <tspan font-style="italic">Snord116</tspan></text>
<text transform="translate(35.50,583.90) rotate(-90)" font-size="16.3" text-anchor="middle">mRNA levels</text>
<text transform="translate(94.50,674.50) rotate(-45)" font-size="14.0" text-anchor="end">DMSO</text>
<text transform="translate(121.95,674.50) rotate(-45)" font-size="14.0" text-anchor="end">DMSO</text>
<text transform="translate(149.40,674.50) rotate(-45)" font-size="14.0" text-anchor="end">Topotecan</text>
<text transform="translate(176.85,674.50) rotate(-45)" font-size="14.0" text-anchor="end">(S)-PHA533533</text>
<text transform="translate(207.80,674.50) rotate(-45)" font-size="14.0" text-anchor="end">(<tspan font-style="italic">R</tspan>)-PHA533533</text>
<text transform="translate(232.35,674.50) rotate(-45)" font-size="14.0" text-anchor="end">Compound <tspan font-weight="bold">2</tspan></text>
<text transform="translate(259.80,674.50) rotate(-45)" font-size="14.0" text-anchor="end">Compound <tspan font-weight="bold">3</tspan></text>
<text transform="translate(287.25,674.50) rotate(-45)" font-size="14.0" text-anchor="end">Compound (±)-<tspan font-weight="bold">4</tspan></text>
<text transform="translate(317.20,676.80) rotate(-45)" font-size="14.0" text-anchor="end">Compound</text>
<text transform="translate(320.96,697.08) rotate(-45)" font-size="14.0" text-anchor="end">(S,<tspan font-style="italic">R</tspan>)-<tspan font-weight="bold">5</tspan></text>
<text x="333.60" y="478.60" font-size="25" font-weight="bold" font-style="normal" fill="#231f20" text-anchor="start" >e</text>
<text x="412.80" y="476.90" font-size="16" font-weight="normal" font-style="normal" fill="#000" text-anchor="start" >WT</text>
<line x1="415.30" y1="484.8" x2="431.90" y2="484.8" stroke="#000" stroke-width="3.2" stroke-linecap="round"/>
<line x1="442.80" y1="484.8" x2="651.10" y2="484.8" stroke="#000" stroke-width="3.2" stroke-linecap="round"/>
<text x="516.00" y="476.00" font-size="16" font-style="italic">Ube3a<tspan dy="-8.4" font-size="13" font-style="normal">m–/p+</tspan></text>
<line x1="405.10" y1="582.40" x2="660.80" y2="582.40" stroke="#9a9b9d" stroke-width="1.6" stroke-dasharray="10.4 10.8" stroke-dashoffset="4"/>
<rect x="414.90" y="582.20" width="16.40" height="73.30" fill="url(#hatch)" stroke="#000" stroke-width="1.8"/>
<line x1="423.10" y1="579.06" x2="423.10" y2="584.94" stroke="#000" stroke-width="1.5" />
<line x1="418.60" y1="579.06" x2="427.60" y2="579.06" stroke="#000" stroke-width="1.6" />
<line x1="418.60" y1="584.94" x2="427.60" y2="584.94" stroke="#000" stroke-width="1.6" />
<circle cx="423.10" cy="574.65" r="2.9" fill="none" stroke="#000" stroke-width="1"/>
<circle cx="417.60" cy="586.41" r="2.9" fill="none" stroke="#000" stroke-width="1"/>
<circle cx="429.60" cy="582.00" r="2.9" fill="none" stroke="#000" stroke-width="1"/>
<circle cx="423.10" cy="582.00" r="2.9" fill="none" stroke="#000" stroke-width="1"/>
<rect x="442.35" y="570.81" width="16.40" height="84.69" fill="#f4f4f4" stroke="#000" stroke-width="1.8"/>
<line x1="450.55" y1="564.36" x2="450.55" y2="576.86" stroke="#000" stroke-width="1.5" />
<line x1="446.05" y1="564.36" x2="455.05" y2="564.36" stroke="#000" stroke-width="1.6" />
<line x1="446.05" y1="576.86" x2="455.05" y2="576.86" stroke="#000" stroke-width="1.6" />
<circle cx="450.55" cy="552.60" r="2.9" fill="none" stroke="#000" stroke-width="1"/>
<circle cx="444.05" cy="573.18" r="2.9" fill="none" stroke="#000" stroke-width="1"/>
<circle cx="457.15" cy="574.65" r="2.9" fill="none" stroke="#000" stroke-width="1"/>
<circle cx="450.55" cy="582.00" r="2.9" fill="none" stroke="#000" stroke-width="1"/>
<rect x="469.80" y="597.63" width="16.40" height="57.87" fill="#585c5f" stroke="#000" stroke-width="1.8"/>
<line x1="478.00" y1="594.86" x2="478.00" y2="600.01" stroke="#000" stroke-width="1.5" />
<line x1="473.50" y1="594.86" x2="482.50" y2="594.86" stroke="#000" stroke-width="1.6" />
<line x1="473.50" y1="600.01" x2="482.50" y2="600.01" stroke="#000" stroke-width="1.6" />
<circle cx="478.00" cy="590.45" r="2.9" fill="none" stroke="#000" stroke-width="1"/>
<circle cx="471.80" cy="595.97" r="2.9" fill="none" stroke="#000" stroke-width="1"/>
<circle cx="484.10" cy="595.97" r="2.9" fill="none" stroke="#000" stroke-width="1"/>
<circle cx="478.00" cy="602.58" r="2.9" fill="none" stroke="#000" stroke-width="1"/>
<rect x="497.25" y="563.83" width="16.40" height="91.67" fill="#1fa2d6" stroke="#000" stroke-width="1.8"/>
<line x1="505.45" y1="556.27" x2="505.45" y2="570.98" stroke="#000" stroke-width="1.5" />
<line x1="500.95" y1="556.27" x2="509.95" y2="556.27" stroke="#000" stroke-width="1.6" />
<line x1="500.95" y1="570.98" x2="509.95" y2="570.98" stroke="#000" stroke-width="1.6" />
<circle cx="505.45" cy="547.46" r="2.9" fill="none" stroke="#000" stroke-width="1"/>
<circle cx="499.25" cy="558.48" r="2.9" fill="none" stroke="#000" stroke-width="1"/>
<circle cx="512.15" cy="562.15" r="2.9" fill="none" stroke="#000" stroke-width="1"/>
<circle cx="505.45" cy="582.00" r="2.9" fill="none" stroke="#000" stroke-width="1"/>
<rect x="524.70" y="563.83" width="16.40" height="91.67" fill="#1fa2d6" stroke="#000" stroke-width="1.8"/>
<line x1="532.90" y1="557.01" x2="532.90" y2="570.24" stroke="#000" stroke-width="1.5" />
<line x1="528.40" y1="557.01" x2="537.40" y2="557.01" stroke="#000" stroke-width="1.6" />
<line x1="528.40" y1="570.24" x2="537.40" y2="570.24" stroke="#000" stroke-width="1.6" />
<circle cx="532.90" cy="545.25" r="2.9" fill="none" stroke="#000" stroke-width="1"/>
<circle cx="526.70" cy="563.62" r="2.9" fill="none" stroke="#000" stroke-width="1"/>
<circle cx="539.00" cy="566.57" r="2.9" fill="none" stroke="#000" stroke-width="1"/>
<circle cx="532.90" cy="576.12" r="2.9" fill="none" stroke="#000" stroke-width="1"/>
<rect x="552.15" y="565.30" width="16.40" height="90.20" fill="#4070b0" stroke="#000" stroke-width="1.8"/>
<line x1="560.35" y1="559.95" x2="560.35" y2="570.24" stroke="#000" stroke-width="1.5" />
<line x1="555.85" y1="559.95" x2="564.85" y2="559.95" stroke="#000" stroke-width="1.6" />
<line x1="555.85" y1="570.24" x2="564.85" y2="570.24" stroke="#000" stroke-width="1.6" />
<circle cx="560.35" cy="552.23" r="2.9" fill="none" stroke="#000" stroke-width="1"/>
<circle cx="554.15" cy="563.62" r="2.9" fill="none" stroke="#000" stroke-width="1"/>
<circle cx="566.45" cy="565.83" r="2.9" fill="none" stroke="#000" stroke-width="1"/>
<circle cx="560.35" cy="577.59" r="2.9" fill="none" stroke="#000" stroke-width="1"/>
<rect x="579.60" y="557.58" width="16.40" height="97.92" fill="#4070b0" stroke="#000" stroke-width="1.8"/>
<line x1="587.80" y1="553.70" x2="587.80" y2="561.05" stroke="#000" stroke-width="1.5" />
<line x1="583.30" y1="553.70" x2="592.30" y2="553.70" stroke="#000" stroke-width="1.6" />
<line x1="583.30" y1="561.05" x2="592.30" y2="561.05" stroke="#000" stroke-width="1.6" />
<circle cx="587.80" cy="545.25" r="2.9" fill="none" stroke="#000" stroke-width="1"/>
<circle cx="582.30" cy="560.68" r="2.9" fill="none" stroke="#000" stroke-width="1"/>
<circle cx="594.00" cy="559.95" r="2.9" fill="none" stroke="#000" stroke-width="1"/>
<circle cx="587.80" cy="558.48" r="2.9" fill="none" stroke="#000" stroke-width="1"/>
<rect x="607.05" y="561.62" width="16.40" height="93.88" fill="#4070b0" stroke="#000" stroke-width="1.8"/>
<line x1="615.25" y1="558.48" x2="615.25" y2="564.36" stroke="#000" stroke-width="1.5" />
<line x1="610.75" y1="558.48" x2="619.75" y2="558.48" stroke="#000" stroke-width="1.6" />
<line x1="610.75" y1="564.36" x2="619.75" y2="564.36" stroke="#000" stroke-width="1.6" />
<circle cx="615.25" cy="552.60" r="2.9" fill="none" stroke="#000" stroke-width="1"/>
<circle cx="609.15" cy="561.42" r="2.9" fill="none" stroke="#000" stroke-width="1"/>
<circle cx="621.15" cy="563.62" r="2.9" fill="none" stroke="#000" stroke-width="1"/>
<circle cx="608.25" cy="568.40" r="2.9" fill="none" stroke="#000" stroke-width="1"/>
<rect x="634.50" y="585.51" width="16.40" height="69.99" fill="#4070b0" stroke="#000" stroke-width="1.8"/>
<line x1="642.70" y1="580.16" x2="642.70" y2="590.45" stroke="#000" stroke-width="1.5" />
<line x1="638.20" y1="580.16" x2="647.20" y2="580.16" stroke="#000" stroke-width="1.6" />
<line x1="638.20" y1="590.45" x2="647.20" y2="590.45" stroke="#000" stroke-width="1.6" />
<circle cx="636.60" cy="576.86" r="2.9" fill="none" stroke="#000" stroke-width="1"/>
<circle cx="649.20" cy="574.28" r="2.9" fill="none" stroke="#000" stroke-width="1"/>
<circle cx="636.60" cy="595.23" r="2.9" fill="none" stroke="#000" stroke-width="1"/>
<circle cx="649.20" cy="592.66" r="2.9" fill="none" stroke="#000" stroke-width="1"/>
<line x1="405.10" y1="507.70" x2="405.10" y2="656.40" stroke="#000" stroke-width="1.7"/>
<line x1="404.30" y1="655.50" x2="660.80" y2="655.50" stroke="#000" stroke-width="1.7"/>
<line x1="397.60" y1="655.50" x2="405.10" y2="655.50" stroke="#000" stroke-width="1.6" />
<text x="393.20" y="661.10" font-size="13.3" font-weight="bold" font-style="normal" fill="#000" text-anchor="end" >0.0</text>
<line x1="397.60" y1="618.75" x2="405.10" y2="618.75" stroke="#000" stroke-width="1.6" />
<text x="393.20" y="624.35" font-size="13.3" font-weight="bold" font-style="normal" fill="#000" text-anchor="end" >0.5</text>
<line x1="397.60" y1="582.00" x2="405.10" y2="582.00" stroke="#000" stroke-width="1.6" />
<text x="393.20" y="587.60" font-size="13.3" font-weight="bold" font-style="normal" fill="#000" text-anchor="end" >1.0</text>
<line x1="397.60" y1="545.25" x2="405.10" y2="545.25" stroke="#000" stroke-width="1.6" />
<text x="393.20" y="550.85" font-size="13.3" font-weight="bold" font-style="normal" fill="#000" text-anchor="end" >1.5</text>
<line x1="397.60" y1="508.50" x2="405.10" y2="508.50" stroke="#000" stroke-width="1.6" />
<text x="393.20" y="514.10" font-size="13.3" font-weight="bold" font-style="normal" fill="#000" text-anchor="end" >2.0</text>
<line x1="423.10" y1="655.50" x2="423.10" y2="663.10" stroke="#000" stroke-width="1.5" />
<line x1="450.55" y1="655.50" x2="450.55" y2="663.10" stroke="#000" stroke-width="1.5" />
<line x1="478.00" y1="655.50" x2="478.00" y2="663.10" stroke="#000" stroke-width="1.5" />
<line x1="505.45" y1="655.50" x2="505.45" y2="663.10" stroke="#000" stroke-width="1.5" />
<line x1="532.90" y1="655.50" x2="532.90" y2="663.10" stroke="#000" stroke-width="1.5" />
<line x1="560.35" y1="655.50" x2="560.35" y2="663.10" stroke="#000" stroke-width="1.5" />
<line x1="587.80" y1="655.50" x2="587.80" y2="663.10" stroke="#000" stroke-width="1.5" />
<line x1="615.25" y1="655.50" x2="615.25" y2="663.10" stroke="#000" stroke-width="1.5" />
<line x1="642.70" y1="655.50" x2="642.70" y2="663.10" stroke="#000" stroke-width="1.5" />
<polyline points="453.10,543.50 453.10,539.50 477.80,539.50 477.80,543.50" fill="none" stroke="#231f20" stroke-width="1.3"/>
<polygon points="459.00,531.20 459.82,533.17 461.95,533.34 460.33,534.73 460.82,536.81 459.00,535.70 457.18,536.81 457.67,534.73 456.05,533.34 458.18,533.17" fill="#2e2e2e"/>
<polygon points="465.40,531.20 466.22,533.17 468.35,533.34 466.73,534.73 467.22,536.81 465.40,535.70 463.58,536.81 464.07,534.73 462.45,533.34 464.58,533.17" fill="#2e2e2e"/>
<polygon points="471.80,531.20 472.62,533.17 474.75,533.34 473.13,534.73 473.62,536.81 471.80,535.70 469.98,536.81 470.47,534.73 468.85,533.34 470.98,533.17" fill="#2e2e2e"/>
<text transform="translate(349.20,582.60) rotate(-90)" font-size="16.3" text-anchor="middle">Norm. <tspan font-style="italic">Snrpn</tspan></text>
<text transform="translate(370.60,583.70) rotate(-90)" font-size="16.3" text-anchor="middle">mRNA levels</text>
<text transform="translate(430.00,673.50) rotate(-45)" font-size="14.0" text-anchor="end">DMSO</text>
<text transform="translate(457.45,673.50) rotate(-45)" font-size="14.0" text-anchor="end">DMSO</text>
<text transform="translate(484.90,673.50) rotate(-45)" font-size="14.0" text-anchor="end">Topotecan</text>
<text transform="translate(512.35,673.50) rotate(-45)" font-size="14.0" text-anchor="end">(S)-PHA533533</text>
<text transform="translate(543.30,673.50) rotate(-45)" font-size="14.0" text-anchor="end">(<tspan font-style="italic">R</tspan>)-PHA533533</text>
<text transform="translate(567.85,673.50) rotate(-45)" font-size="14.0" text-anchor="end">Compound <tspan font-weight="bold">2</tspan></text>
<text transform="translate(595.30,673.50) rotate(-45)" font-size="14.0" text-anchor="end">Compound <tspan font-weight="bold">3</tspan></text>
<text transform="translate(622.75,673.50) rotate(-45)" font-size="14.0" text-anchor="end">Compound (±)-<tspan font-weight="bold">4</tspan></text>
<text transform="translate(652.70,675.80) rotate(-45)" font-size="14.0" text-anchor="end">Compound</text>
<text transform="translate(656.46,696.08) rotate(-45)" font-size="14.0" text-anchor="end">(S,<tspan font-style="italic">R</tspan>)-<tspan font-weight="bold">5</tspan></text>
<text x="1.00" y="769.10" font-size="25" font-weight="bold" font-style="normal" fill="#231f20" text-anchor="start" >f</text>
<text x="77.70" y="769.10" font-size="16" font-weight="normal" font-style="normal" fill="#000" text-anchor="start" >WT</text>
<line x1="80.40" y1="777.3" x2="97.00" y2="777.3" stroke="#000" stroke-width="3.2" stroke-linecap="round"/>
<line x1="107.80" y1="777.3" x2="316.80" y2="777.3" stroke="#000" stroke-width="3.2" stroke-linecap="round"/>
<text x="171.00" y="768.20" font-size="16" font-style="italic">Ube3a<tspan dy="-8.4" font-size="13" font-style="normal">m–/p+</tspan></text>
<line x1="69.50" y1="854.10" x2="325.70" y2="854.10" stroke="#9a9b9d" stroke-width="1.6" stroke-dasharray="10.4 10.8" stroke-dashoffset="4"/>
<rect x="79.90" y="853.90" width="16.40" height="97.50" fill="url(#hatch)" stroke="#000" stroke-width="1.8"/>
<line x1="88.10" y1="841.00" x2="88.10" y2="866.40" stroke="#000" stroke-width="1.5" />
<line x1="83.60" y1="841.00" x2="92.60" y2="841.00" stroke="#000" stroke-width="1.6" />
<line x1="83.60" y1="866.40" x2="92.60" y2="866.40" stroke="#000" stroke-width="1.6" />
<circle cx="88.10" cy="831.23" r="2.9" fill="none" stroke="#000" stroke-width="1"/>
<circle cx="88.10" cy="840.02" r="2.9" fill="none" stroke="#000" stroke-width="1"/>
<circle cx="88.10" cy="857.61" r="2.9" fill="none" stroke="#000" stroke-width="1"/>
<circle cx="88.10" cy="885.94" r="2.9" fill="none" stroke="#000" stroke-width="1"/>
<rect x="107.35" y="945.05" width="16.40" height="6.35" fill="#f4f4f4" stroke="#000" stroke-width="1.8"/>
<line x1="115.55" y1="938.99" x2="115.55" y2="950.72" stroke="#000" stroke-width="1.5" />
<line x1="111.05" y1="938.99" x2="120.05" y2="938.99" stroke="#000" stroke-width="1.6" />
<circle cx="115.55" cy="925.02" r="2.9" fill="none" stroke="#000" stroke-width="1"/>
<circle cx="108.85" cy="948.47" r="2.9" fill="none" stroke="#000" stroke-width="1"/>
<circle cx="115.55" cy="944.27" r="2.9" fill="none" stroke="#000" stroke-width="1"/>
<circle cx="123.25" cy="946.91" r="2.9" fill="none" stroke="#000" stroke-width="1"/>
<rect x="134.80" y="888.39" width="16.40" height="63.01" fill="#585c5f" stroke="#000" stroke-width="1.8"/>
<line x1="143.00" y1="878.42" x2="143.00" y2="897.96" stroke="#000" stroke-width="1.5" />
<line x1="138.50" y1="878.42" x2="147.50" y2="878.42" stroke="#000" stroke-width="1.6" />
<line x1="138.50" y1="897.96" x2="147.50" y2="897.96" stroke="#000" stroke-width="1.6" />
<circle cx="143.00" cy="863.47" r="2.9" fill="none" stroke="#000" stroke-width="1"/>
<circle cx="143.00" cy="883.01" r="2.9" fill="none" stroke="#000" stroke-width="1"/>
<circle cx="143.00" cy="898.64" r="2.9" fill="none" stroke="#000" stroke-width="1"/>
<circle cx="143.00" cy="904.02" r="2.9" fill="none" stroke="#000" stroke-width="1"/>
<rect x="162.25" y="863.67" width="16.40" height="87.73" fill="#1fa2d6" stroke="#000" stroke-width="1.8"/>
<line x1="170.45" y1="851.75" x2="170.45" y2="875.19" stroke="#000" stroke-width="1.5" />
<line x1="165.95" y1="851.75" x2="174.95" y2="851.75" stroke="#000" stroke-width="1.6" />
<line x1="165.95" y1="875.19" x2="174.95" y2="875.19" stroke="#000" stroke-width="1.6" />
<circle cx="170.45" cy="846.86" r="2.9" fill="none" stroke="#000" stroke-width="1"/>
<circle cx="163.75" cy="855.65" r="2.9" fill="none" stroke="#000" stroke-width="1"/>
<circle cx="177.15" cy="856.63" r="2.9" fill="none" stroke="#000" stroke-width="1"/>
<circle cx="170.45" cy="892.78" r="2.9" fill="none" stroke="#000" stroke-width="1"/>
<rect x="189.70" y="944.37" width="16.40" height="7.03" fill="#1fa2d6" stroke="#000" stroke-width="1.8"/>
<line x1="197.90" y1="942.22" x2="197.90" y2="946.12" stroke="#000" stroke-width="1.5" />
<line x1="193.40" y1="942.22" x2="202.40" y2="942.22" stroke="#000" stroke-width="1.6" />
<line x1="193.40" y1="946.12" x2="202.40" y2="946.12" stroke="#000" stroke-width="1.6" />
<circle cx="191.20" cy="939.87" r="2.9" fill="none" stroke="#000" stroke-width="1"/>
<circle cx="197.90" cy="941.63" r="2.9" fill="none" stroke="#000" stroke-width="1"/>
<circle cx="204.00" cy="944.17" r="2.9" fill="none" stroke="#000" stroke-width="1"/>
<circle cx="197.90" cy="945.54" r="2.9" fill="none" stroke="#000" stroke-width="1"/>
<rect x="217.15" y="924.24" width="16.40" height="27.16" fill="#4070b0" stroke="#000" stroke-width="1.8"/>
<line x1="225.35" y1="914.27" x2="225.35" y2="933.81" stroke="#000" stroke-width="1.5" />
<line x1="220.85" y1="914.27" x2="229.85" y2="914.27" stroke="#000" stroke-width="1.6" />
<line x1="220.85" y1="933.81" x2="229.85" y2="933.81" stroke="#000" stroke-width="1.6" />
<circle cx="225.35" cy="899.91" r="2.9" fill="none" stroke="#000" stroke-width="1"/>
<circle cx="225.35" cy="915.25" r="2.9" fill="none" stroke="#000" stroke-width="1"/>
<circle cx="225.35" cy="929.91" r="2.9" fill="none" stroke="#000" stroke-width="1"/>
<circle cx="225.35" cy="937.72" r="2.9" fill="none" stroke="#000" stroke-width="1"/>
<rect x="244.60" y="904.22" width="16.40" height="47.18" fill="#4070b0" stroke="#000" stroke-width="1.8"/>
<line x1="252.80" y1="894.73" x2="252.80" y2="913.30" stroke="#000" stroke-width="1.5" />
<line x1="248.30" y1="894.73" x2="257.30" y2="894.73" stroke="#000" stroke-width="1.6" />
<line x1="248.30" y1="913.30" x2="257.30" y2="913.30" stroke="#000" stroke-width="1.6" />
<circle cx="246.70" cy="891.22" r="2.9" fill="none" stroke="#000" stroke-width="1"/>
<circle cx="259.50" cy="888.87" r="2.9" fill="none" stroke="#000" stroke-width="1"/>
<circle cx="246.70" cy="916.72" r="2.9" fill="none" stroke="#000" stroke-width="1"/>
<circle cx="259.50" cy="914.27" r="2.9" fill="none" stroke="#000" stroke-width="1"/>
<rect x="272.05" y="905.19" width="16.40" height="46.21" fill="#4070b0" stroke="#000" stroke-width="1.8"/>
<line x1="280.25" y1="897.18" x2="280.25" y2="912.81" stroke="#000" stroke-width="1.5" />
<line x1="275.75" y1="897.18" x2="284.75" y2="897.18" stroke="#000" stroke-width="1.6" />
<line x1="275.75" y1="912.81" x2="284.75" y2="912.81" stroke="#000" stroke-width="1.6" />
<circle cx="280.25" cy="888.87" r="2.9" fill="none" stroke="#000" stroke-width="1"/>
<circle cx="280.25" cy="899.62" r="2.9" fill="none" stroke="#000" stroke-width="1"/>
<circle cx="280.25" cy="910.37" r="2.9" fill="none" stroke="#000" stroke-width="1"/>
<circle cx="280.25" cy="918.18" r="2.9" fill="none" stroke="#000" stroke-width="1"/>
<rect x="299.50" y="932.06" width="16.40" height="19.34" fill="#4070b0" stroke="#000" stroke-width="1.8"/>
<line x1="307.70" y1="926.98" x2="307.70" y2="936.75" stroke="#000" stroke-width="1.5" />
<line x1="303.20" y1="926.98" x2="312.20" y2="926.98" stroke="#000" stroke-width="1.6" />
<line x1="303.20" y1="936.75" x2="312.20" y2="936.75" stroke="#000" stroke-width="1.6" />
<circle cx="307.70" cy="916.72" r="2.9" fill="none" stroke="#000" stroke-width="1"/>
<circle cx="301.00" cy="936.55" r="2.9" fill="none" stroke="#000" stroke-width="1"/>
<circle cx="313.70" cy="936.55" r="2.9" fill="none" stroke="#000" stroke-width="1"/>
<circle cx="307.70" cy="932.84" r="2.9" fill="none" stroke="#000" stroke-width="1"/>
<line x1="69.50" y1="804.05" x2="69.50" y2="952.30" stroke="#000" stroke-width="1.7"/>
<line x1="68.70" y1="951.40" x2="325.70" y2="951.40" stroke="#000" stroke-width="1.7"/>
<line x1="62.00" y1="951.40" x2="69.50" y2="951.40" stroke="#000" stroke-width="1.6" />
<text x="57.60" y="957.00" font-size="13.3" font-weight="bold" font-style="normal" fill="#000" text-anchor="end" >0.0</text>
<line x1="62.00" y1="902.55" x2="69.50" y2="902.55" stroke="#000" stroke-width="1.6" />
<text x="57.60" y="908.15" font-size="13.3" font-weight="bold" font-style="normal" fill="#000" text-anchor="end" >0.5</text>
<line x1="62.00" y1="853.70" x2="69.50" y2="853.70" stroke="#000" stroke-width="1.6" />
<text x="57.60" y="859.30" font-size="13.3" font-weight="bold" font-style="normal" fill="#000" text-anchor="end" >1.0</text>
<line x1="62.00" y1="804.85" x2="69.50" y2="804.85" stroke="#000" stroke-width="1.6" />
<text x="57.60" y="810.45" font-size="13.3" font-weight="bold" font-style="normal" fill="#000" text-anchor="end" >1.5</text>
<line x1="88.10" y1="951.40" x2="88.10" y2="959.00" stroke="#000" stroke-width="1.5" />
<line x1="115.55" y1="951.40" x2="115.55" y2="959.00" stroke="#000" stroke-width="1.5" />
<line x1="143.00" y1="951.40" x2="143.00" y2="959.00" stroke="#000" stroke-width="1.5" />
<line x1="170.45" y1="951.40" x2="170.45" y2="959.00" stroke="#000" stroke-width="1.5" />
<line x1="197.90" y1="951.40" x2="197.90" y2="959.00" stroke="#000" stroke-width="1.5" />
<line x1="225.35" y1="951.40" x2="225.35" y2="959.00" stroke="#000" stroke-width="1.5" />
<line x1="252.80" y1="951.40" x2="252.80" y2="959.00" stroke="#000" stroke-width="1.5" />
<line x1="280.25" y1="951.40" x2="280.25" y2="959.00" stroke="#000" stroke-width="1.5" />
<line x1="307.70" y1="951.40" x2="307.70" y2="959.00" stroke="#000" stroke-width="1.5" />
<polyline points="88.00,795.00 88.00,791.00 112.80,791.00 112.80,795.00" fill="none" stroke="#231f20" stroke-width="1.3"/>
<polygon points="90.80,783.10 91.62,785.07 93.75,785.24 92.13,786.63 92.62,788.71 90.80,787.60 88.98,788.71 89.47,786.63 87.85,785.24 89.98,785.07" fill="#2e2e2e"/>
<polygon points="97.20,783.10 98.02,785.07 100.15,785.24 98.53,786.63 99.02,788.71 97.20,787.60 95.38,788.71 95.87,786.63 94.25,785.24 96.38,785.07" fill="#2e2e2e"/>
<polygon points="103.60,783.10 104.42,785.07 106.55,785.24 104.93,786.63 105.42,788.71 103.60,787.60 101.78,788.71 102.27,786.63 100.65,785.24 102.78,785.07" fill="#2e2e2e"/>
<polygon points="110.00,783.10 110.82,785.07 112.95,785.24 111.33,786.63 111.82,788.71 110.00,787.60 108.18,788.71 108.67,786.63 107.05,785.24 109.18,785.07" fill="#2e2e2e"/>
<polyline points="117.60,795.00 117.60,791.00 308.80,791.00 308.80,795.00" fill="none" stroke="#231f20" stroke-width="1.3"/>
<polygon points="202.30,783.10 203.12,785.07 205.25,785.24 203.63,786.63 204.12,788.71 202.30,787.60 200.48,788.71 200.97,786.63 199.35,785.24 201.48,785.07" fill="#2e2e2e"/>
<polyline points="117.60,807.00 117.60,803.00 280.70,803.00 280.70,807.00" fill="none" stroke="#231f20" stroke-width="1.3"/>
<line x1="252.60" y1="803.00" x2="252.60" y2="807.00" stroke="#231f20" stroke-width="1.3" />
<polygon points="191.90,794.70 192.72,796.67 194.85,796.84 193.23,798.23 193.72,800.31 191.90,799.20 190.08,800.31 190.57,798.23 188.95,796.84 191.08,796.67" fill="#2e2e2e"/>
<polygon points="198.30,794.70 199.12,796.67 201.25,796.84 199.63,798.23 200.12,800.31 198.30,799.20 196.48,800.31 196.97,798.23 195.35,796.84 197.48,796.67" fill="#2e2e2e"/>
<polygon points="204.70,794.70 205.52,796.67 207.65,796.84 206.03,798.23 206.52,800.31 204.70,799.20 202.88,800.31 203.37,798.23 201.75,796.84 203.88,796.67" fill="#2e2e2e"/>
<polygon points="211.10,794.70 211.92,796.67 214.05,796.84 212.43,798.23 212.92,800.31 211.10,799.20 209.28,800.31 209.77,798.23 208.15,796.84 210.28,796.67" fill="#2e2e2e"/>
<polyline points="117.60,818.00 117.60,814.00 225.30,814.00 225.30,818.00" fill="none" stroke="#231f20" stroke-width="1.3"/>
<polygon points="169.10,805.70 169.92,807.67 172.05,807.84 170.43,809.23 170.92,811.31 169.10,810.20 167.28,811.31 167.77,809.23 166.15,807.84 168.28,807.67" fill="#2e2e2e"/>
<polygon points="175.50,805.70 176.32,807.67 178.45,807.84 176.83,809.23 177.32,811.31 175.50,810.20 173.68,811.31 174.17,809.23 172.55,807.84 174.68,807.67" fill="#2e2e2e"/>
<polyline points="117.60,828.50 117.60,824.50 170.10,824.50 170.10,828.50" fill="none" stroke="#231f20" stroke-width="1.3"/>
<polygon points="133.20,816.60 134.02,818.57 136.15,818.74 134.53,820.13 135.02,822.21 133.20,821.10 131.38,822.21 131.87,820.13 130.25,818.74 132.38,818.57" fill="#2e2e2e"/>
<polygon points="139.60,816.60 140.42,818.57 142.55,818.74 140.93,820.13 141.42,822.21 139.60,821.10 137.78,822.21 138.27,820.13 136.65,818.74 138.78,818.57" fill="#2e2e2e"/>
<polygon points="146.00,816.60 146.82,818.57 148.95,818.74 147.33,820.13 147.82,822.21 146.00,821.10 144.18,822.21 144.67,820.13 143.05,818.74 145.18,818.57" fill="#2e2e2e"/>
<polygon points="152.40,816.60 153.22,818.57 155.35,818.74 153.73,820.13 154.22,822.21 152.40,821.10 150.58,822.21 151.07,820.13 149.45,818.74 151.58,818.57" fill="#2e2e2e"/>
<polyline points="117.60,839.50 117.60,835.50 143.10,835.50 143.10,839.50" fill="none" stroke="#231f20" stroke-width="1.3"/>
<polygon points="121.40,827.60 122.22,829.57 124.35,829.74 122.73,831.13 123.22,833.21 121.40,832.10 119.58,833.21 120.07,831.13 118.45,829.74 120.58,829.57" fill="#2e2e2e"/>
<polygon points="127.80,827.60 128.62,829.57 130.75,829.74 129.13,831.13 129.62,833.21 127.80,832.10 125.98,833.21 126.47,831.13 124.85,829.74 126.98,829.57" fill="#2e2e2e"/>
<polygon points="134.20,827.60 135.02,829.57 137.15,829.74 135.53,831.13 136.02,833.21 134.20,832.10 132.38,833.21 132.87,831.13 131.25,829.74 133.38,829.57" fill="#2e2e2e"/>
<polygon points="140.60,827.60 141.42,829.57 143.55,829.74 141.93,831.13 142.42,833.21 140.60,832.10 138.78,833.21 139.27,831.13 137.65,829.74 139.78,829.57" fill="#2e2e2e"/>
<text transform="translate(15.10,879.00) rotate(-90)" font-size="16.3" text-anchor="middle">Norm. <tspan font-style="italic">Ube3a</tspan></text>
<text transform="translate(35.50,879.40) rotate(-90)" font-size="16.3" text-anchor="middle">mRNA levels</text>
<text transform="translate(94.50,970.20) rotate(-45)" font-size="14.0" text-anchor="end">DMSO</text>
<text transform="translate(121.95,970.20) rotate(-45)" font-size="14.0" text-anchor="end">DMSO</text>
<text transform="translate(149.40,970.20) rotate(-45)" font-size="14.0" text-anchor="end">Topotecan</text>
<text transform="translate(176.85,970.20) rotate(-45)" font-size="14.0" text-anchor="end">(S)-PHA533533</text>
<text transform="translate(207.80,970.20) rotate(-45)" font-size="14.0" text-anchor="end">(<tspan font-style="italic">R</tspan>)-PHA533533</text>
<text transform="translate(232.35,970.20) rotate(-45)" font-size="14.0" text-anchor="end">Compound <tspan font-weight="bold">2</tspan></text>
<text transform="translate(259.80,970.20) rotate(-45)" font-size="14.0" text-anchor="end">Compound <tspan font-weight="bold">3</tspan></text>
<text transform="translate(287.25,970.20) rotate(-45)" font-size="14.0" text-anchor="end">Compound (±)-<tspan font-weight="bold">4</tspan></text>
<text transform="translate(317.20,972.50) rotate(-45)" font-size="14.0" text-anchor="end">Compound</text>
<text transform="translate(320.96,992.78) rotate(-45)" font-size="14.0" text-anchor="end">(S,<tspan font-style="italic">R</tspan>)-<tspan font-weight="bold">5</tspan></text>
<text x="334.40" y="769.50" font-size="25" font-weight="bold" font-style="normal" fill="#231f20" text-anchor="start" >g</text>
<text x="415.40" y="769.50" font-size="16" font-weight="normal" font-style="normal" fill="#000" text-anchor="start" >WT</text>
<line x1="418.00" y1="777.4" x2="432.50" y2="777.4" stroke="#000" stroke-width="3.2" stroke-linecap="round"/>
<line x1="445.80" y1="777.4" x2="653.80" y2="777.4" stroke="#000" stroke-width="3.2" stroke-linecap="round"/>
<text x="517.00" y="768.60" font-size="16" font-style="italic">Ube3a<tspan dy="-8.4" font-size="13" font-style="normal">m–/p+</tspan></text>
<line x1="406.60" y1="853.60" x2="663.30" y2="853.60" stroke="#9a9b9d" stroke-width="1.6" stroke-dasharray="10.4 10.8" stroke-dashoffset="4"/>
<rect x="417.00" y="853.40" width="16.40" height="97.90" fill="url(#hatch)" stroke="#000" stroke-width="1.8"/>
<line x1="425.20" y1="843.39" x2="425.20" y2="863.01" stroke="#000" stroke-width="1.5" />
<line x1="420.70" y1="843.39" x2="429.70" y2="843.39" stroke="#000" stroke-width="1.6" />
<line x1="420.70" y1="863.01" x2="429.70" y2="863.01" stroke="#000" stroke-width="1.6" />
<circle cx="425.20" cy="829.66" r="2.9" fill="none" stroke="#000" stroke-width="1"/>
<circle cx="425.20" cy="843.39" r="2.9" fill="none" stroke="#000" stroke-width="1"/>
<circle cx="419.80" cy="868.90" r="2.9" fill="none" stroke="#000" stroke-width="1"/>
<circle cx="431.20" cy="869.88" r="2.9" fill="none" stroke="#000" stroke-width="1"/>
<rect x="444.45" y="947.87" width="16.40" height="3.43" fill="#f4f4f4" stroke="#000" stroke-width="1.8"/>
<line x1="452.65" y1="946.69" x2="452.65" y2="948.65" stroke="#000" stroke-width="1.5" />
<line x1="448.15" y1="946.69" x2="457.15" y2="946.69" stroke="#000" stroke-width="1.6" />
<line x1="448.15" y1="948.65" x2="457.15" y2="948.65" stroke="#000" stroke-width="1.6" />
<circle cx="446.65" cy="947.38" r="2.9" fill="none" stroke="#000" stroke-width="1"/>
<circle cx="452.65" cy="945.41" r="2.9" fill="none" stroke="#000" stroke-width="1"/>
<circle cx="458.65" cy="945.41" r="2.9" fill="none" stroke="#000" stroke-width="1"/>
<circle cx="454.65" cy="948.36" r="2.9" fill="none" stroke="#000" stroke-width="1"/>
<rect x="471.90" y="908.34" width="16.40" height="42.96" fill="#585c5f" stroke="#000" stroke-width="1.8"/>
<line x1="480.10" y1="901.76" x2="480.10" y2="914.51" stroke="#000" stroke-width="1.5" />
<line x1="475.60" y1="901.76" x2="484.60" y2="901.76" stroke="#000" stroke-width="1.6" />
<line x1="475.60" y1="914.51" x2="484.60" y2="914.51" stroke="#000" stroke-width="1.6" />
<circle cx="480.10" cy="891.46" r="2.9" fill="none" stroke="#000" stroke-width="1"/>
<circle cx="473.40" cy="909.12" r="2.9" fill="none" stroke="#000" stroke-width="1"/>
<circle cx="486.80" cy="914.02" r="2.9" fill="none" stroke="#000" stroke-width="1"/>
<circle cx="473.40" cy="915.00" r="2.9" fill="none" stroke="#000" stroke-width="1"/>
<rect x="499.35" y="896.86" width="16.40" height="54.44" fill="#1fa2d6" stroke="#000" stroke-width="1.8"/>
<line x1="507.55" y1="890.77" x2="507.55" y2="902.54" stroke="#000" stroke-width="1.5" />
<line x1="503.05" y1="890.77" x2="512.05" y2="890.77" stroke="#000" stroke-width="1.6" />
<line x1="503.05" y1="902.54" x2="512.05" y2="902.54" stroke="#000" stroke-width="1.6" />
<circle cx="507.55" cy="880.67" r="2.9" fill="none" stroke="#000" stroke-width="1"/>
<circle cx="507.55" cy="897.34" r="2.9" fill="none" stroke="#000" stroke-width="1"/>
<circle cx="500.85" cy="902.25" r="2.9" fill="none" stroke="#000" stroke-width="1"/>
<circle cx="514.25" cy="902.25" r="2.9" fill="none" stroke="#000" stroke-width="1"/>
<rect x="526.80" y="946.89" width="16.40" height="4.41" fill="#1fa2d6" stroke="#000" stroke-width="1.8"/>
<line x1="535.00" y1="945.71" x2="535.00" y2="947.67" stroke="#000" stroke-width="1.5" />
<line x1="530.50" y1="945.71" x2="539.50" y2="945.71" stroke="#000" stroke-width="1.6" />
<line x1="530.50" y1="947.67" x2="539.50" y2="947.67" stroke="#000" stroke-width="1.6" />
<circle cx="535.00" cy="942.47" r="2.9" fill="none" stroke="#000" stroke-width="1"/>
<circle cx="529.00" cy="947.38" r="2.9" fill="none" stroke="#000" stroke-width="1"/>
<circle cx="541.00" cy="947.38" r="2.9" fill="none" stroke="#000" stroke-width="1"/>
<circle cx="535.00" cy="948.36" r="2.9" fill="none" stroke="#000" stroke-width="1"/>
<rect x="554.25" y="945.32" width="16.40" height="5.98" fill="#4070b0" stroke="#000" stroke-width="1.8"/>
<line x1="562.45" y1="944.14" x2="562.45" y2="946.10" stroke="#000" stroke-width="1.5" />
<line x1="557.95" y1="944.14" x2="566.95" y2="944.14" stroke="#000" stroke-width="1.6" />
<line x1="557.95" y1="946.10" x2="566.95" y2="946.10" stroke="#000" stroke-width="1.6" />
<circle cx="557.45" cy="944.43" r="2.9" fill="none" stroke="#000" stroke-width="1"/>
<circle cx="562.45" cy="943.45" r="2.9" fill="none" stroke="#000" stroke-width="1"/>
<circle cx="568.45" cy="944.43" r="2.9" fill="none" stroke="#000" stroke-width="1"/>
<circle cx="562.45" cy="946.39" r="2.9" fill="none" stroke="#000" stroke-width="1"/>
<rect x="581.70" y="937.86" width="16.40" height="13.44" fill="#4070b0" stroke="#000" stroke-width="1.8"/>
<line x1="589.90" y1="934.72" x2="589.90" y2="940.61" stroke="#000" stroke-width="1.5" />
<line x1="585.40" y1="934.72" x2="594.40" y2="934.72" stroke="#000" stroke-width="1.6" />
<line x1="585.40" y1="940.61" x2="594.40" y2="940.61" stroke="#000" stroke-width="1.6" />
<circle cx="583.60" cy="931.68" r="2.9" fill="none" stroke="#000" stroke-width="1"/>
<circle cx="589.90" cy="934.62" r="2.9" fill="none" stroke="#000" stroke-width="1"/>
<circle cx="596.00" cy="935.60" r="2.9" fill="none" stroke="#000" stroke-width="1"/>
<circle cx="583.60" cy="940.51" r="2.9" fill="none" stroke="#000" stroke-width="1"/>
<rect x="609.15" y="935.51" width="16.40" height="15.79" fill="#4070b0" stroke="#000" stroke-width="1.8"/>
<line x1="617.35" y1="933.84" x2="617.35" y2="936.78" stroke="#000" stroke-width="1.5" />
<line x1="612.85" y1="933.84" x2="621.85" y2="933.84" stroke="#000" stroke-width="1.6" />
<line x1="612.85" y1="936.78" x2="621.85" y2="936.78" stroke="#000" stroke-width="1.6" />
<circle cx="610.65" cy="931.68" r="2.9" fill="none" stroke="#000" stroke-width="1"/>
<circle cx="617.35" cy="933.64" r="2.9" fill="none" stroke="#000" stroke-width="1"/>
<circle cx="624.05" cy="934.62" r="2.9" fill="none" stroke="#000" stroke-width="1"/>
<circle cx="610.65" cy="938.55" r="2.9" fill="none" stroke="#000" stroke-width="1"/>
<rect x="636.60" y="945.32" width="16.40" height="5.98" fill="#4070b0" stroke="#000" stroke-width="1.8"/>
<line x1="644.80" y1="943.16" x2="644.80" y2="947.08" stroke="#000" stroke-width="1.5" />
<line x1="640.30" y1="943.16" x2="649.30" y2="943.16" stroke="#000" stroke-width="1.6" />
<line x1="640.30" y1="947.08" x2="649.30" y2="947.08" stroke="#000" stroke-width="1.6" />
<circle cx="651.60" cy="939.53" r="2.9" fill="none" stroke="#000" stroke-width="1"/>
<circle cx="644.80" cy="943.45" r="2.9" fill="none" stroke="#000" stroke-width="1"/>
<circle cx="639.80" cy="946.39" r="2.9" fill="none" stroke="#000" stroke-width="1"/>
<circle cx="647.80" cy="946.39" r="2.9" fill="none" stroke="#000" stroke-width="1"/>
<line x1="406.60" y1="803.35" x2="406.60" y2="952.20" stroke="#000" stroke-width="1.7"/>
<line x1="405.80" y1="951.30" x2="663.30" y2="951.30" stroke="#000" stroke-width="1.7"/>
<line x1="399.10" y1="951.30" x2="406.60" y2="951.30" stroke="#000" stroke-width="1.6" />
<text x="394.70" y="956.90" font-size="13.3" font-weight="bold" font-style="normal" fill="#000" text-anchor="end" >0.0</text>
<line x1="399.10" y1="902.25" x2="406.60" y2="902.25" stroke="#000" stroke-width="1.6" />
<text x="394.70" y="907.85" font-size="13.3" font-weight="bold" font-style="normal" fill="#000" text-anchor="end" >0.5</text>
<line x1="399.10" y1="853.20" x2="406.60" y2="853.20" stroke="#000" stroke-width="1.6" />
<text x="394.70" y="858.80" font-size="13.3" font-weight="bold" font-style="normal" fill="#000" text-anchor="end" >1.0</text>
<line x1="399.10" y1="804.15" x2="406.60" y2="804.15" stroke="#000" stroke-width="1.6" />
<text x="394.70" y="809.75" font-size="13.3" font-weight="bold" font-style="normal" fill="#000" text-anchor="end" >1.5</text>
<line x1="425.20" y1="951.30" x2="425.20" y2="958.90" stroke="#000" stroke-width="1.5" />
<line x1="452.65" y1="951.30" x2="452.65" y2="958.90" stroke="#000" stroke-width="1.5" />
<line x1="480.10" y1="951.30" x2="480.10" y2="958.90" stroke="#000" stroke-width="1.5" />
<line x1="507.55" y1="951.30" x2="507.55" y2="958.90" stroke="#000" stroke-width="1.5" />
<line x1="535.00" y1="951.30" x2="535.00" y2="958.90" stroke="#000" stroke-width="1.5" />
<line x1="562.45" y1="951.30" x2="562.45" y2="958.90" stroke="#000" stroke-width="1.5" />
<line x1="589.90" y1="951.30" x2="589.90" y2="958.90" stroke="#000" stroke-width="1.5" />
<line x1="617.35" y1="951.30" x2="617.35" y2="958.90" stroke="#000" stroke-width="1.5" />
<line x1="644.80" y1="951.30" x2="644.80" y2="958.90" stroke="#000" stroke-width="1.5" />
<polyline points="424.60,820.00 424.60,816.00 450.00,816.00 450.00,820.00" fill="none" stroke="#231f20" stroke-width="1.3"/>
<polygon points="427.70,808.10 428.52,810.07 430.65,810.24 429.03,811.63 429.52,813.71 427.70,812.60 425.88,813.71 426.37,811.63 424.75,810.24 426.88,810.07" fill="#2e2e2e"/>
<polygon points="434.10,808.10 434.92,810.07 437.05,810.24 435.43,811.63 435.92,813.71 434.10,812.60 432.28,813.71 432.77,811.63 431.15,810.24 433.28,810.07" fill="#2e2e2e"/>
<polygon points="440.50,808.10 441.32,810.07 443.45,810.24 441.83,811.63 442.32,813.71 440.50,812.60 438.68,813.71 439.17,811.63 437.55,810.24 439.68,810.07" fill="#2e2e2e"/>
<polygon points="446.90,808.10 447.72,810.07 449.85,810.24 448.23,811.63 448.72,813.71 446.90,812.60 445.08,813.71 445.57,811.63 443.95,810.24 446.08,810.07" fill="#2e2e2e"/>
<polyline points="455.10,820.00 455.10,816.00 618.00,816.00 618.00,820.00" fill="none" stroke="#231f20" stroke-width="1.3"/>
<line x1="590.10" y1="816.00" x2="590.10" y2="820.00" stroke="#231f20" stroke-width="1.3" />
<polygon points="527.80,807.70 528.62,809.67 530.75,809.84 529.13,811.23 529.62,813.31 527.80,812.20 525.98,813.31 526.47,811.23 524.85,809.84 526.98,809.67" fill="#2e2e2e"/>
<polygon points="534.20,807.70 535.02,809.67 537.15,809.84 535.53,811.23 536.02,813.31 534.20,812.20 532.38,813.31 532.87,811.23 531.25,809.84 533.38,809.67" fill="#2e2e2e"/>
<polygon points="540.60,807.70 541.42,809.67 543.55,809.84 541.93,811.23 542.42,813.31 540.60,812.20 538.78,813.31 539.27,811.23 537.65,809.84 539.78,809.67" fill="#2e2e2e"/>
<polygon points="547.00,807.70 547.82,809.67 549.95,809.84 548.33,811.23 548.82,813.31 547.00,812.20 545.18,813.31 545.67,811.23 544.05,809.84 546.18,809.67" fill="#2e2e2e"/>
<polyline points="455.10,831.50 455.10,827.50 507.20,827.50 507.20,831.50" fill="none" stroke="#231f20" stroke-width="1.3"/>
<line x1="479.60" y1="827.50" x2="479.60" y2="831.50" stroke="#231f20" stroke-width="1.3" />
<polygon points="469.00,819.40 469.82,821.37 471.95,821.54 470.33,822.93 470.82,825.01 469.00,823.90 467.18,825.01 467.67,822.93 466.05,821.54 468.18,821.37" fill="#2e2e2e"/>
<polygon points="475.40,819.40 476.22,821.37 478.35,821.54 476.73,822.93 477.22,825.01 475.40,823.90 473.58,825.01 474.07,822.93 472.45,821.54 474.58,821.37" fill="#2e2e2e"/>
<polygon points="481.80,819.40 482.62,821.37 484.75,821.54 483.13,822.93 483.62,825.01 481.80,823.90 479.98,825.01 480.47,822.93 478.85,821.54 480.98,821.37" fill="#2e2e2e"/>
<polygon points="488.20,819.40 489.02,821.37 491.15,821.54 489.53,822.93 490.02,825.01 488.20,823.90 486.38,825.01 486.87,822.93 485.25,821.54 487.38,821.37" fill="#2e2e2e"/>
<text transform="translate(349.30,884.50) rotate(-90)" font-size="16.3" text-anchor="middle">Norm. UBE3A</text>
<text transform="translate(369.20,884.90) rotate(-90)" font-size="16.3" text-anchor="middle" textLength="81.7" lengthAdjust="spacingAndGlyphs">protein levels</text>
<text transform="translate(429.50,1014.30) rotate(-45)" font-size="14.0" text-anchor="end">DMSO</text>
<text transform="translate(456.95,1014.30) rotate(-45)" font-size="14.0" text-anchor="end">DMSO</text>
<text transform="translate(484.40,1014.30) rotate(-45)" font-size="14.0" text-anchor="end">Topotecan</text>
<text transform="translate(511.85,1014.30) rotate(-45)" font-size="14.0" text-anchor="end">(S)-PHA533533</text>
<text transform="translate(542.80,1014.30) rotate(-45)" font-size="14.0" text-anchor="end">(<tspan font-style="italic">R</tspan>)-PHA533533</text>
<text transform="translate(567.35,1014.30) rotate(-45)" font-size="14.0" text-anchor="end">Compound <tspan font-weight="bold">2</tspan></text>
<text transform="translate(594.80,1014.30) rotate(-45)" font-size="14.0" text-anchor="end">Compound <tspan font-weight="bold">3</tspan></text>
<text transform="translate(622.25,1014.30) rotate(-45)" font-size="14.0" text-anchor="end">Compound (±)-<tspan font-weight="bold">4</tspan></text>
<text transform="translate(652.20,1016.60) rotate(-45)" font-size="14.0" text-anchor="end">Compound</text>
<text transform="translate(655.96,1036.88) rotate(-45)" font-size="14.0" text-anchor="end">(S,<tspan font-style="italic">R</tspan>)-<tspan font-weight="bold">5</tspan></text>
<rect x="412.7" y="959.2" width="246.6" height="17.6" fill="#fafafa" stroke="#000" stroke-width="1.6"/>
<rect x="412.7" y="982.6" width="246.6" height="17.6" fill="#fafafa" stroke="#000" stroke-width="1.6"/>
<g filter="url(#blur)">
<rect x="416.2" y="966.3" width="21.0" height="3.8" rx="1.9" fill="#0a0a0a"/>
<rect x="444.0" y="967.5" width="16.0" height="1.5" rx="0.8" fill="#f0f0f0"/>
<rect x="471.7" y="967.4" width="18.9" height="2.4" rx="1.2" fill="#8a8a8a"/>
<rect x="497.3" y="967.0" width="19.9" height="2.4" rx="1.2" fill="#7a7a7a"/>
<rect x="525.0" y="967.6" width="19.0" height="1.5" rx="0.8" fill="#eeeeee"/>
<rect x="552.7" y="967.8" width="18.7" height="1.6" rx="0.8" fill="#d8d8d8"/>
<rect x="578.3" y="967.4" width="19.7" height="2.0" rx="1.0" fill="#a8a8a8"/>
<rect x="604.9" y="967.1" width="21.7" height="2.2" rx="1.1" fill="#9a9a9a"/>
<rect x="633.5" y="967.6" width="19.7" height="1.5" rx="0.8" fill="#ececec"/>
<rect x="416.6" y="988.8" width="19.0" height="3.0" rx="1.5" fill="#444"/>
<rect x="441.3" y="988.1" width="20.9" height="2.6" rx="1.3" fill="#5a5a5a"/>
<rect x="469.8" y="989.0" width="18.9" height="3.2" rx="1.6" fill="#2e2e2e"/>
<rect x="496.3" y="989.3" width="19.0" height="3.8" rx="1.9" fill="#1a1a1a"/>
<rect x="524.0" y="989.3" width="20.8" height="3.0" rx="1.5" fill="#333"/>
<rect x="552.7" y="989.5" width="19.7" height="3.0" rx="1.5" fill="#383838"/>
<rect x="580.3" y="989.0" width="19.1" height="3.6" rx="1.8" fill="#1e1e1e"/>
<rect x="605.9" y="988.7" width="21.7" height="3.0" rx="1.5" fill="#333"/>
<rect x="634.5" y="988.8" width="20.6" height="2.8" rx="1.4" fill="#3c3c3c"/>
</g>
<text x="339.20" y="976.50" font-size="16" font-weight="normal" font-style="normal" fill="#333" text-anchor="start" >UBE3A</text>
<text x="339.20" y="998.30" font-size="16" font-weight="normal" font-style="normal" fill="#333" text-anchor="start" >GAPDH</text>
<line x1="660.00" y1="965.30" x2="665.00" y2="965.30" stroke="#000" stroke-width="1.2" />
<line x1="660.00" y1="986.00" x2="665.00" y2="986.00" stroke="#000" stroke-width="1.2" />
<text x="667.00" y="969.50" font-size="11.5" font-weight="normal" font-style="normal" fill="#222" text-anchor="start" >100</text>
<text x="669.20" y="990.00" font-size="11.5" font-weight="normal" font-style="normal" fill="#222" text-anchor="start" >37</text>
<text x="666.80" y="1011.20" font-size="10.5" font-weight="normal" font-style="normal" fill="#222" text-anchor="start" >kDa</text>
</svg>
</body></html>
